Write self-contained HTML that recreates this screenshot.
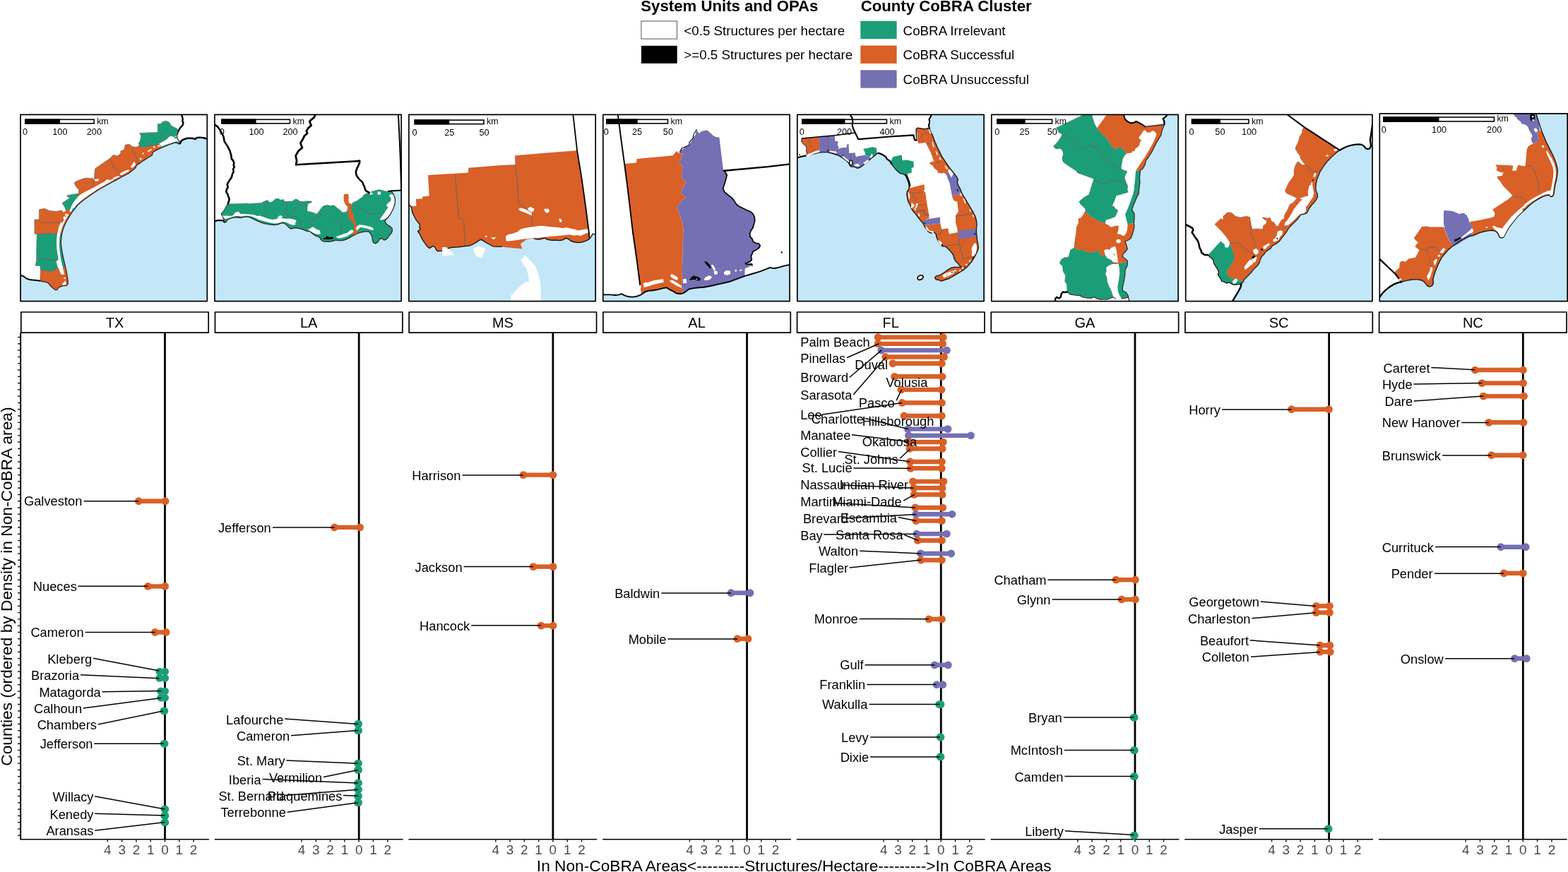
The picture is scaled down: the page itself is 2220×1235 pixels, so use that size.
<!DOCTYPE html>
<html lang="en"><head><meta charset="utf-8"><title>County CoBRA Cluster</title>
<style>html,body{margin:0;padding:0;background:#fff;}body{width:2220px;height:1235px;overflow:hidden;}svg{display:block;}text{font-family:"Liberation Sans",Arial,Helvetica,sans-serif;}</style>
</head><body>
<svg width="2220" height="1235" viewBox="0 0 2220 1235">
<rect width="2220" height="1235" fill="#fff"/>
<g id="legend">
<text x="907.3" y="16.3" font-size="22.19" font-weight="bold" fill="#000">System Units and OPAs</text>
<rect x="907.9" y="29.9" width="50.6" height="25.2" fill="#fff" stroke="#555" stroke-width="1"/>
<rect x="907.9" y="64.8" width="50.8" height="25" fill="#000"/>
<text x="968.3" y="49.7" font-size="18.78" fill="#000">&lt;0.5 Structures per hectare</text>
<text x="968.3" y="84.3" font-size="18.78" fill="#000">&gt;=0.5 Structures per hectare</text>
<text x="1218.7" y="16.3" font-size="22.19" font-weight="bold" fill="#000">County CoBRA Cluster</text>
<rect x="1218.3" y="29.7" width="51.3" height="25.4" fill="#1b9e77"/>
<text x="1278.6" y="49.7" font-size="18.78" fill="#000">CoBRA Irrelevant</text>
<rect x="1218.3" y="64.5" width="51.3" height="25.4" fill="#d96027"/>
<text x="1278.6" y="84.3" font-size="18.78" fill="#000">CoBRA Successful</text>
<rect x="1218.3" y="99.3" width="51.3" height="25.4" fill="#7570b3"/>
<text x="1278.6" y="118.9" font-size="18.78" fill="#000">CoBRA Unsuccessful</text>
</g>
<g id="map0"><clipPath id="clip0"><rect x="29" y="162.3" width="264.3" height="264.3"/></clipPath><g clip-path="url(#clip0)"><rect x="29" y="162.3" width="264.3" height="264.3" fill="#fff"/>
<polygon points="294.9,197.4 290.4,195.8 285.8,194.9 281.3,194.7 277.9,195.4 276.2,197.2 273.4,196 268.8,195.6 264.3,196 259.8,197.5 256.4,199.8 255.4,202.6 253.5,203.7 250.7,202.6 247.3,202.2 243.9,203.3 239.4,205 234.8,206.7 230.3,208.6 225.7,210.7 221.2,212.9 217.8,214.6 215.8,216.9 215.5,219.8 212.7,221.5 208.7,223.8 205.3,226.1 201.9,228.3 198.5,230.6 195.1,232.9 193.1,234.6 192,237.4 189.5,239.7 186.1,242.5 182.7,245.3 179.3,247 174.7,249.3 170.2,251.8 165.7,254.4 160,257.3 153.8,260.7 144.7,265.8 137.9,269.7 131.1,274.3 125.4,278.2 119.8,282.2 114.1,286.7 109.6,290.7 106.4,295 102.8,299.5 99.4,304.6 96,310.3 92.6,316.5 89.7,323.3 87.8,330.1 86.7,336.9 86.3,343.7 86.9,350.5 88,357.3 89.4,364.1 91.2,372.1 92.8,378.9 94.3,385.7 95.4,392.5 96.2,398.2 96,402.7 93.9,404.5 90.3,404.5 86.9,405.6 83.5,406.8 81.9,408.4 81.3,410.4 78.5,410.7 75.5,408.5 72.1,405.6 69.9,402.8 67.6,400.5 64.2,399.4 59.7,398.5 56.3,397.7 56.3,397.7 51.7,397.1 46.1,396.6 41.5,395.9 37,394.3 33.6,391.5 30.8,390.3 27.9,390 20,440 300,440 300,190" fill="#c3e7f9"/>
<polygon points="223.3,175.6 226.9,175.4 230.9,172.2 234.8,171.2 239.4,172.9 241.1,176 243.3,178.8 246.7,180.2 250.7,182.2 252,184.7 251.6,188.4 250.3,191.5 248.4,192.4 246.7,194.1 244.5,193 241.6,192.4 239.4,193.5 237.7,195.2 235.4,197.5 232.6,199.2 228,201.5 224.6,204 221.2,205.4 217.8,205.4 214.4,206.6 209.9,207.4 205.3,208.3 197.4,208.3 196.3,202.6 198.5,199.2 199.7,192.4 197.6,188.4 223.3,187.5" fill="#1b9e77" stroke="#666" stroke-width="0.6" stroke-linejoin="round"/>
<polygon points="227.6,208.1 234.8,205.1 239.4,203.5 246.2,201.3 250.7,200.1 253.5,201.5 253.6,203.5 250.7,202.6 247.3,202.2 243.9,203.3 239.4,205 234.8,206.7 230.3,208.6 226.9,210.3" fill="#1b9e77"/>
<polygon points="246.4,194.3 249.6,193.5 250.2,195.6 247.9,196.7" fill="#1b9e77"/>
<polyline points="227.8,187.5 228,201.5" fill="none" stroke="#666" stroke-width="0.8" stroke-linejoin="round" stroke-linecap="round"/>
<polygon points="177,205.4 181.5,204.3 184.4,204.9 187.2,207.7 192.9,208.3 197.4,206.6 197.4,208.3 205.3,208.3 214.4,206.6 218.9,205.4 224.6,204 228,206.6 226.9,210.3 221.2,212.9 217.8,214.6 215.8,216.9 215.5,219.8 212.7,221.5 208.7,223.8 205.3,226.1 201.9,228.3 198.5,230.6 195.1,232.9 193.1,234.6 192,237.4 189.5,239.7 186.1,242.5 182.7,245.3 179.3,247 174.7,249.3 170.2,251.8 165.7,254.4 160,257.3 153.8,260.7 144.7,265.8 137.9,269.7 131.1,274.3 125.4,278.2 119.8,282.2 114.1,286.7 110.7,289.7 110.7,278 111.8,268.4 109.6,266.7 106.7,262.7 105,258.7 109.6,255.9 117.5,253.1 121.5,251.9 128.8,252.7 130.5,251.9 133.4,254.8 133.9,245.7 134.5,238.9 156,224.1 160,219.6 166.8,220.7 170.8,217.3 170.8,213.9 175.9,211.7" fill="#d96027" stroke="#666" stroke-width="0.6" stroke-linejoin="round"/>
<polyline points="187.2,207.7 187.2,211.7 190.6,218.5 194.6,225.9 193.4,233.2" fill="none" stroke="#666" stroke-width="0.8" stroke-linejoin="round" stroke-linecap="round"/>
<polyline points="160,234.4 161.1,236.6 164.5,239.5 169.1,245.7 172.5,250" fill="none" stroke="#666" stroke-width="0.8" stroke-linejoin="round" stroke-linecap="round"/>
<polyline points="156,224.1 157.7,228.7 158.9,233.2 160,236.6" fill="none" stroke="#666" stroke-width="0.8" stroke-linejoin="round" stroke-linecap="round"/>
<polyline points="133.4,254.8 131.7,265.5" fill="none" stroke="#666" stroke-width="0.8" stroke-linejoin="round" stroke-linecap="round"/>
<polygon points="94.3,276.9 110.7,274 110.7,278 110.7,289.7 108.4,291.6 106.4,295 102.8,299.5 101.1,302 98.2,300.1 93.7,299.5 92.6,295 92.6,295 88,287.6 99.4,280.3 97.1,279.7" fill="#1b9e77" stroke="#666" stroke-width="0.6" stroke-linejoin="round"/>
<polygon points="55.4,296.7 63.1,295.2 69.9,298.4 80.1,299.5 87.4,297.8 89.7,301.2 93.7,299.3 98.2,300.1 101.1,302 99.4,304.6 96,310.3 92.6,316.5 89.7,323.3 87.8,330.1 87.6,331.5 81.2,330.7 76.7,331.3 68.7,330.7 65.3,331.3 61.9,330.7 58.5,331.8 52.9,331.3 48.9,331.3 48.9,310.9 55.4,310.9" fill="#d96027" stroke="#666" stroke-width="0.6" stroke-linejoin="round"/>
<polyline points="55.4,310.9 59.1,315.4 85.7,315.4" fill="none" stroke="#666" stroke-width="0.8" stroke-linejoin="round" stroke-linecap="round"/>
<polygon points="52.3,331.3 58.5,331.8 61.9,330.7 65.3,331.3 68.7,330.7 76.7,331.3 81.2,330.7 87.6,331.5 86.7,336.9 86.3,343.7 86.9,350.5 88,357.3 89.4,364.1 91.2,372.1 92.6,378.3 81.8,378.3 78.9,382.9 75.5,382.9 73.8,384.6 65.3,383.4 57.4,382.3 56.8,376.6 50,376.1 51.2,371 51.7,367 51.7,351.7" fill="#1b9e77" stroke="#666" stroke-width="0.6" stroke-linejoin="round"/>
<polyline points="51.7,367 79.5,368.1 82.9,369.3" fill="none" stroke="#666" stroke-width="0.8" stroke-linejoin="round" stroke-linecap="round"/>
<polygon points="57.4,382.3 65.3,383.4 73.8,384.6 75.5,382.9 78.9,382.9 81.8,378.3 92.6,378.3 92.8,378.9 94.3,385.7 95.4,392.5 96.2,398.2 96,402.7 93.9,404.5 90.3,404.5 86.9,405.6 83.5,406.8 81.9,408.4 81.3,410.4 78.5,410.7 75.5,408.5 72.1,405.6 69.9,402.8 67.6,400.5 64.2,399.4 59.7,398.5 56.8,397.7" fill="#d96027" stroke="#666" stroke-width="0.6" stroke-linejoin="round"/>
<polygon points="201.4,216.2 203.6,216.4 203.6,218.5 201.7,218.5" fill="#fff"/>
<polygon points="208.7,213.7 211.6,212.2 214.4,210.8 215,212.2 212.1,213.9 209.9,215.6" fill="#fff"/>
<polygon points="216.7,207.4 219.5,207.4 219.9,209.4 217.2,209.6" fill="#fff"/>
<polygon points="222.9,206 226.3,205.7 226.7,207.4 223.5,207.7" fill="#fff"/>
<polygon points="197.6,223.9 199.9,223.4 200.6,226.2 198.5,226.6" fill="#fff"/>
<polygon points="184.9,236.8 189.7,228.7 192.3,233 187.8,237.5" fill="#fff"/>
<polygon points="169.6,245.9 175.9,242.3 182.7,240 182.9,242.3 177,245.7 171.3,248.5" fill="#fff"/>
<polygon points="160,251.9 164.5,250 168.5,248.9 169.1,250.8 164.5,252.7 160,254.8" fill="#fff"/>
<polygon points="160,253.4 154.9,255 151.5,253.9 148.1,257.3 144.7,259 140.2,261.2 133.4,265.2 126.6,268.6 119.8,272 114.1,275.4 110.7,278.3 107.3,282.2 103.9,286.7 101.6,291 99.9,295 105,295 105.8,293.5 109.6,289.1 114.1,285.1 119.8,280.6 125.4,276.6 131.1,272.7 137.9,268.1 144.7,264.2 153.8,259.1 160,255.7" fill="#fff"/>
<polygon points="133.4,254.2 136.8,253.4 140.2,253.6 139,256.5 134.5,256.5" fill="#fff"/>
<polygon points="99.9,295 98.2,298.4 94.8,300.1 91.4,303.5 89.4,308.6 88,313.7 85.7,315.4 83.5,321.1 81.8,327.9 80.6,333.5 80.1,340.3 80.1,347.1 80.6,353.9 81.8,361.9 82.6,367.6 79.5,370.4 81.8,378.3 83.5,381.2 85.2,385.7 86.9,389.1 91.2,388.6 89.7,382.3 88,374.4 86.3,367.6 85.2,360.7 84.4,353.9 84,347.1 84.2,340.3 84.8,333.5 86,327.9 87.8,322.2 90.3,316.5 93.1,310.9 95.7,306.3 98.2,302.9 101.6,298.4 103.3,295" fill="#fff"/>
<polygon points="92.6,298.7 96.2,295.9 101.8,302.1 99.4,304.6 95.4,303.2 93.1,306.6 90.3,312.3 87.8,315.7 86.3,315.1 88,308.9 89.7,303.2" fill="#d96027"/>
<polygon points="91.6,303.8 94.3,302.3 95,304.1 92.6,305.7" fill="#fff"/>
<polygon points="89.4,307.2 92,306.1 92.6,309.5 90.1,311.2" fill="#fff"/>
<polygon points="88,402.1 92.6,397.6 93.9,403.3 89.4,404.1" fill="#fff"/>
<polygon points="90.1,393.4 92.6,392.7 92.8,394.8 90.5,395" fill="#fff"/>
<polyline points="294.9,197.4 290.4,195.8 285.8,194.9 281.3,194.7 277.9,195.4 276.2,197.2 273.4,196 268.8,195.6 264.3,196 259.8,197.5 256.4,199.8 255.4,202.6 253.5,203.7 250.7,202.6 247.3,202.2 243.9,203.3 239.4,205 234.8,206.7 230.3,208.6 225.7,210.7 221.2,212.9 217.8,214.6 215.8,216.9 215.5,219.8 212.7,221.5 208.7,223.8 205.3,226.1 201.9,228.3 198.5,230.6 195.1,232.9 193.1,234.6 192,237.4 189.5,239.7 186.1,242.5 182.7,245.3 179.3,247 174.7,249.3 170.2,251.8 165.7,254.4 160,257.3 153.8,260.7 144.7,265.8 137.9,269.7 131.1,274.3 125.4,278.2 119.8,282.2 114.1,286.7 109.6,290.7 106.4,295 102.8,299.5 99.4,304.6 96,310.3 92.6,316.5 89.7,323.3 87.8,330.1 86.7,336.9 86.3,343.7 86.9,350.5 88,357.3 89.4,364.1 91.2,372.1 92.8,378.9 94.3,385.7 95.4,392.5 96.2,398.2 96,402.7 93.9,404.5 90.3,404.5 86.9,405.6 83.5,406.8 81.9,408.4 81.3,410.4 78.5,410.7 75.5,408.5 72.1,405.6 69.9,402.8 67.6,400.5 64.2,399.4 59.7,398.5 56.3,397.7" fill="none" stroke="#3a2a2a" stroke-width="1.3" stroke-linejoin="round" stroke-linecap="round"/>
<polyline points="256.4,161.8 258.1,165.2 258.7,168.6 258.4,172 259.5,173.7 258.7,177.1 256.6,179.4 254.8,181.6 253.3,183.9 252.5,186.2" fill="none" stroke="#000" stroke-width="2.4" stroke-linejoin="round" stroke-linecap="round"/>
<polyline points="252.5,186.2 251.8,189 250.7,191.8 250.7,195.2 252.4,198.1 254.1,200.3 253.9,203.2" fill="none" stroke="#222" stroke-width="1.2" stroke-linejoin="round" stroke-linecap="round"/>
<polyline points="294.9,197.4 290.4,195.8 285.8,194.9 281.3,194.7 277.9,195.4 276.2,197.2 273.4,196 268.8,195.6 264.3,196 259.8,197.5 256.4,199.8 255.4,202.6 253.9,203.5" fill="none" stroke="#000" stroke-width="2.4" stroke-linejoin="round" stroke-linecap="round"/>
<polyline points="56.3,397.7 51.7,397.1 46.1,396.6 41.5,395.9 37,394.3 33.6,391.5 30.8,390.3 27.9,390" fill="none" stroke="#000" stroke-width="2.0" stroke-linejoin="round" stroke-linecap="round"/>
</g>
<rect x="35.9" y="169.3" width="97.3" height="5.5" fill="none" stroke="#000" stroke-width="1.6"/>
<rect x="35.1" y="168.5" width="49.9" height="7.1" fill="#000"/>
<text x="137.2" y="175.6" font-size="12.3" fill="#000">km</text>
<text x="35.6" y="190.9" font-size="12.7" text-anchor="middle" fill="#000">0</text>
<text x="84.9" y="190.9" font-size="12.7" text-anchor="middle" fill="#000">100</text>
<text x="133.4" y="190.9" font-size="12.7" text-anchor="middle" fill="#000">200</text>
<rect x="29" y="162.3" width="264.3" height="264.3" fill="none" stroke="#000" stroke-width="1.7" stroke-linejoin="round"/>
</g>
<g id="map1"><clipPath id="clip1"><rect x="303.9" y="162.3" width="264.3" height="264.3"/></clipPath><g clip-path="url(#clip1)"><rect x="303.9" y="162.3" width="264.3" height="264.3" fill="#fff"/>
<polygon points="302.9,313.8 307.5,312.3 312,312.1 316,312.5 317.7,314.6 319.9,314.6 321.6,311.7 324.5,309.8 329,308.3 334.7,307.5 340.3,308.5 343.7,307.9 347.1,306.8 351.7,307.2 356.2,308.9 360.7,311.2 365.3,313.4 369.8,315.1 374.4,316.6 378.9,317.4 383.4,318 388,318.5 392.5,318.2 395.9,316.8 399.3,315.7 402.7,316.6 406.1,319.1 409.5,322.5 412.3,324.2 415.2,323.1 418.6,322.5 422,323.4 426.5,324.2 431,325.9 435,327.6 438.4,327.6 441.8,330.4 446.3,333.8 450.9,335.5 453.1,336.7 454.3,339.5 457.7,341.8 462.2,342.3 467.9,342 472.4,341.2 474.7,340.1 479.2,340.6 484.9,340.6 490.5,338.9 495.1,336.7 498.5,334.4 501.9,332.7 505.3,331 509.8,329.3 514.4,328.4 518.9,327.6 522.3,328.2 524.6,331 526.8,335 527.4,339.5 528.5,343.5 531.4,344.9 534.8,342.9 537,339.5 539.3,337.2 541.6,338.4 543.8,340.1 547.2,338.9 549.5,336.1 551.8,332.7 554,330.4 555.4,327 555.2,323.6 552.9,320.8 549.5,319.1 546.7,316.8 545,313.4 546.1,311.2 549.5,307.8 552.9,303.2 555.2,298.7 557.4,294.1 559.1,288.5 559.5,282.8 558.6,278.3 556.3,273.7 553.5,270.3 553.5,270.3 559.7,269.9 571,269.3 580,440 290,440" fill="#c3e7f9"/>
<polygon points="322.8,289 350.5,287.9 351.7,288.5 369.8,287.6 373.2,285.6 378.3,283.4 382.3,286.8 385.7,285.6 390.2,281.5 394.8,281.3 397,283.4 401,282.2 402.7,285.1 406.7,285.6 409.5,285.1 414,285.1 417.4,282.2 420.8,282.2 424.2,285.1 428.8,285.6 435,284.7 441.2,285.1 441.2,286.8 436.1,288.5 435,293 435,299.3 441.8,300.4 448.6,303.2 452,298.7 455.4,294.1 458.2,291.3 463.3,290.5 467.9,291.3 472.4,290.7 474.7,291.9 478.1,295.3 481.5,297.6 484.9,301 488.3,300.4 491.1,299.8 492.8,294.1 493.9,288.5 498.5,289.6 499.6,286.8 503,285.6 506.4,283.9 509.8,281.1 513.2,279.4 514.4,276.6 517.8,274.3 522.3,273.2 525.7,271.5 531.4,269.8 537,268.6 541.6,269.8 546.1,270.9 550.6,270.9 553.5,270.3 553.5,270.3 556.3,273.7 558.6,278.3 559.5,282.8 559.1,288.5 557.4,294.1 555.2,298.7 552.9,303.2 549.5,307.8 546.1,311.2 545,313.4 546.7,316.8 549.5,319.1 552.9,320.8 555.2,323.6 555.4,327 554,330.4 551.8,332.7 549.5,336.1 547.2,338.9 543.8,340.1 541.6,338.4 539.3,337.2 537,339.5 534.8,342.9 531.4,344.9 528.5,343.5 527.4,339.5 526.8,335 524.6,331 522.3,328.2 518.9,327.6 514.4,328.4 509.8,329.3 505.3,331 501.9,332.7 498.5,334.4 495.1,336.7 490.5,338.9 484.9,340.6 479.2,340.6 474.7,340.1 472.4,341.2 467.9,342 462.2,342.3 457.7,341.8 454.3,339.5 453.1,336.7 450.9,335.5 446.3,333.8 441.8,330.4 438.4,327.6 435,327.6 431,325.9 426.5,324.2 422,323.4 418.6,322.5 415.2,323.1 412.3,324.2 409.5,322.5 406.1,319.1 402.7,316.6 399.3,315.7 395.9,316.8 392.5,318.2 388,318.5 383.4,318 378.9,317.4 374.4,316.6 369.8,315.1 365.3,313.4 360.7,311.2 356.2,308.9 351.7,307.2 347.1,306.8 343.7,307.9 340.3,308.5 334.7,307.5 329,308.3 324.5,309.8 321.6,311.7 319.9,314.6 317.7,314.6 315.2,306.1 313.7,304.4 313.1,302.4 316,299.8 318.2,296.4 320.5,291.9" fill="#1b9e77" stroke="#7a5a5a" stroke-width="0.5" stroke-linejoin="round"/>
<polygon points="486.6,277.1 487.7,274.9 490.5,274.3 493.4,275.4 493.7,279.4 493.4,283.9 493.9,287.3 496.8,288.5 498.5,289.6 496.8,293 497.3,297.6 499,302.1 501.3,305.5 501.9,310 503,314.6 504.7,319.1 506.4,322.5 507,327 506.6,330.2 503,331.8 499,333.3 500.7,327 501.3,322.5 500.7,318 499,314.6 496.2,311.2 492.8,308.9 493.9,304.4 492.8,301 491.1,298.7 492.8,294.1 490.5,291.3 488.3,288.5 486.9,285.1 486.6,280.5" fill="#d96027"/>
<polyline points="375.5,287.9 376.6,308.9" fill="none" stroke="#666" stroke-width="0.8" stroke-linejoin="round" stroke-linecap="round"/>
<polyline points="405.5,285.6 406.7,309.5" fill="none" stroke="#666" stroke-width="0.8" stroke-linejoin="round" stroke-linecap="round"/>
<polyline points="408.9,306.6 423.1,290.7 435,290.2" fill="none" stroke="#666" stroke-width="0.8" stroke-linejoin="round" stroke-linecap="round"/>
<polyline points="408.9,306.6 419.7,306.6 425.4,314.6 426.5,323.6" fill="none" stroke="#666" stroke-width="0.8" stroke-linejoin="round" stroke-linecap="round"/>
<polyline points="440.7,314.6 441.8,312.3 445.2,308.9 452,306.6 461.1,298.7 472.4,308.9 483.7,319.1 483.2,332.1" fill="none" stroke="#666" stroke-width="0.8" stroke-linejoin="round" stroke-linecap="round"/>
<polyline points="501.9,289 507.6,294.1 516.6,298.7 525.7,303.2 537,302.1 542.7,300.4" fill="none" stroke="#666" stroke-width="0.8" stroke-linejoin="round" stroke-linecap="round"/>
<polyline points="440.7,314.6 441.2,319.1 442.4,321.4" fill="none" stroke="#666" stroke-width="0.8" stroke-linejoin="round" stroke-linecap="round"/>
<polygon points="314.3,305.5 329,305.7 331.3,303.2 333.5,300.7 337.5,299.8 340.3,302.7 348.3,303.2 356.2,303.8 360.7,304.4 364.1,306.1 367.6,305.5 374.4,307.8 378.9,309.5 382.3,310.6 385.7,310.9 392.5,310 394.2,306.6 397,304.9 399.9,306.4 398.7,308.9 403.8,309.8 408.4,309.5 415.2,310.6 419.7,312.3 418,315.7 418.6,318 415.2,319.1 410.6,317.4 407.2,315.7 403.8,314.6 400.4,314 397,315.1 392.5,316.3 388,316.6 383.4,315.7 378.9,314.6 374.4,313.4 369.8,312.3 365.3,310.6 360.7,308.3 356.2,306.6 351.7,305.7 347.1,305.5 342.6,306.4 338.1,306.1 333.5,306.1 329,307.2 323.3,308.9 319.4,310 316,307.8" fill="#fff"/>
<polygon points="503.6,323.6 505.9,320 508.7,318.2 514.4,318.7 520,319.9 525.7,321.6 528.9,323.4 528.2,325.9 524.6,325.2 518.9,323.6 514.4,322.5 510,322 507.8,324.2 505.3,326.5" fill="#fff"/>
<polygon points="436.1,324.8 439.5,323.6 442.4,321.4 444.6,321.9 447.5,324.8 450.9,325.3 453.1,327 453.7,331 450.9,332.1 446.3,331 441.8,328.7 438.4,327" fill="#fff"/>
<polygon points="475.8,335 480.3,333.8 484.9,332.1 489.4,330.4 492.8,329.3 495.1,326.5 498.5,325.3 500.7,327.6 498.5,330.4 495.1,332.1 491.7,334.4 487.1,336.1 482.6,337.2 478.1,337.5" fill="#fff"/>
<polygon points="551,276.4 553,275.2 555.3,274.9 557.4,275.9 557.8,276.4 558.9,280.4 559.2,284.4 558.9,288.3 557.8,292.9 556.1,297.4 553.8,301.4 551,305.3 548.2,308.2 545.3,309.9 543.6,310.7 540.8,311.3 539.1,311.9 538,310.2 540.8,306.5 543.6,302.5 545.9,299.1 548.2,295.7 549.9,293.4 548.5,292.9 547.3,291.7 547.9,288.9 549.9,287.2 552.1,285.5 553.8,283.8 553.6,281.3 552.1,278.7" fill="#fff"/>
<polygon points="523.2,273.6 524.9,272.2 526.6,272.8 528.1,275 526.6,275.6 523.8,275.4" fill="#fff"/>
<circle cx="536.8" cy="273.7" r="2.4" fill="#fff"/>
<polygon points="457.1,337.2 460.5,336.7 462.2,334.4 464.5,334.7 465.6,336.1 470.1,335.5 472.4,336.7 471.3,338.4 466.7,338.9 461.1,338.9 457.7,338.7" fill="#000"/>
<polyline points="302.9,313.8 307.5,312.3 312,312.1 316,312.5 317.7,314.6 319.9,314.6 321.6,311.7 324.5,309.8 329,308.3 334.7,307.5 340.3,308.5 343.7,307.9 347.1,306.8 351.7,307.2 356.2,308.9 360.7,311.2 365.3,313.4 369.8,315.1 374.4,316.6 378.9,317.4 383.4,318 388,318.5 392.5,318.2 395.9,316.8 399.3,315.7 402.7,316.6 406.1,319.1 409.5,322.5 412.3,324.2 415.2,323.1 418.6,322.5 422,323.4 426.5,324.2 431,325.9 435,327.6 438.4,327.6 441.8,330.4 446.3,333.8 450.9,335.5 453.1,336.7 454.3,339.5 457.7,341.8 462.2,342.3 467.9,342 472.4,341.2 474.7,340.1 479.2,340.6 484.9,340.6 490.5,338.9 495.1,336.7 498.5,334.4 501.9,332.7 505.3,331 509.8,329.3 514.4,328.4 518.9,327.6 522.3,328.2 524.6,331 526.8,335 527.4,339.5 528.5,343.5 531.4,344.9 534.8,342.9 537,339.5 539.3,337.2 541.6,338.4 543.8,340.1 547.2,338.9 549.5,336.1 551.8,332.7 554,330.4 555.4,327 555.2,323.6 552.9,320.8 549.5,319.1 546.7,316.8 545,313.4 546.1,311.2 549.5,307.8 552.9,303.2 555.2,298.7 557.4,294.1 559.1,288.5 559.5,282.8 558.6,278.3 556.3,273.7 553.5,270.3" fill="none" stroke="#3a2a2a" stroke-width="1.3" stroke-linejoin="round" stroke-linecap="round"/>
<polyline points="302.9,313.8 307.5,312.3 312,312.1 316,312.5 317.7,314.6" fill="none" stroke="#000" stroke-width="2.0" stroke-linejoin="round" stroke-linecap="round"/>
<polyline points="304.1,176.5 308.6,179.9 313.1,186.7 316.5,193.5 317.7,200.3 322.2,207.1 325.6,213.9 327.4,220.7 327.9,225 330.1,227.3 331.3,230.7 330.7,234.1 331.8,236.3 330.1,239.7 330.7,243.1 329,246.5 327.9,251.1 325.6,254.5 323.3,257.9 321.6,261.3 322.8,264.7 321.1,268.1 320.2,271.5 322.2,274.9 323.3,278.3 324.7,281.7 323.9,285.1 322.8,288.7" fill="none" stroke="#000" stroke-width="2.6" stroke-linejoin="round" stroke-linecap="round"/>
<polyline points="322.8,288.7 320.5,291.9 318.2,296.4 316,299.8 313.1,302.4 313.7,304.4 315.2,306.1 317.7,314.6" fill="none" stroke="#222" stroke-width="1.0" stroke-linejoin="round" stroke-linecap="round"/>
<polyline points="446.4,162.5 444.6,166.3 441.2,169.1 438.3,172 440.6,177.7 436.7,181.1 433.8,185.6 435.1,189 431,192.4 428.3,198.1 425.4,202.6 427.9,209.4 422.4,213.9 418.6,220.7 420.1,227.6 419.2,233.2" fill="none" stroke="#000" stroke-width="2.8" stroke-linejoin="round" stroke-linecap="round"/>
<polyline points="419.2,233.2 509.3,228 508.1,227.5 509.3,230.1 507.6,234.1 505.3,238.6 503.9,243.1 504.4,247.7 506.4,251.1 509.8,255 513.2,257.9 514.4,261.3 516.1,264.7 516.8,268.1 518.9,270.9 521.7,272 522.5,273.2" fill="none" stroke="#000" stroke-width="2.6" stroke-linejoin="round" stroke-linecap="round"/>
<polyline points="550.1,270.7 559.7,269.9 571,269.3" fill="none" stroke="#000" stroke-width="2.0" stroke-linejoin="round" stroke-linecap="round"/>
<polyline points="563.9,161.8 565.3,189 566.8,223 568.2,268.4" fill="none" stroke="#000" stroke-width="2.0" stroke-linejoin="round" stroke-linecap="round"/>
</g>
<rect x="313.9" y="169.3" width="96.6" height="5.5" fill="none" stroke="#000" stroke-width="1.6"/>
<rect x="313.1" y="168.5" width="49.5" height="7.1" fill="#000"/>
<text x="414.5" y="175.6" font-size="12.3" fill="#000">km</text>
<text x="314.3" y="190.9" font-size="12.7" text-anchor="middle" fill="#000">0</text>
<text x="363" y="190.9" font-size="12.7" text-anchor="middle" fill="#000">100</text>
<text x="411.1" y="190.9" font-size="12.7" text-anchor="middle" fill="#000">200</text>
<rect x="303.9" y="162.3" width="264.3" height="264.3" fill="none" stroke="#000" stroke-width="1.7" stroke-linejoin="round"/>
</g>
<g id="map2"><clipPath id="clip2"><rect x="578.9" y="162.3" width="264.3" height="264.3"/></clipPath><g clip-path="url(#clip2)"><rect x="578.9" y="162.3" width="264.3" height="264.3" fill="#fff"/>
<polygon points="577.9,289.3 581.3,291.9 583,295.3 583.4,299.3 584.7,302.7 587,307.2 589.3,311.8 592.1,315.2 594.4,318 593.8,322 595.2,324.2 592.1,327.1 593.2,329.9 591.5,327.8 593.8,330.6 595.5,334 597.2,338 599.7,341.9 602.3,345.3 604.6,348.7 608,351.6 610.8,349.9 613.6,348.2 615.9,350.4 617.6,353.8 619.3,355.5 623.3,355.5 626.1,355.3 634.6,351.6 640.3,350.4 649.4,349.9 658.4,348.7 664.1,348.2 668.6,346.5 674.3,343.1 678.8,340.2 681.7,339.4 685.6,341.9 690.2,344.8 694.7,347 698.1,349 703.8,349.3 710,349.3 721.3,350.4 732.7,351.6 738.9,352.1 736.6,345.3 741.2,341.9 746.3,338.5 755.3,337.4 755.3,337.4 758.7,338.5 763.3,339.1 767.8,338 771.2,337.2 774.6,339.1 780.3,340.2 787.1,340.2 792.8,340.6 797.3,339.7 800.7,337.4 804.1,338 807.5,340.8 812,342.5 817.7,343.6 823.4,343.1 829,341.4 833.6,339.1 837,335.1 839.2,331.2 841.5,331.7 844.9,333.1 855,440 565,440 565,290" fill="#c3e7f9"/>
<polygon points="606.3,248.3 663,244.9 663.5,238.1 710,234.3 729.8,233.5 729.3,220.5 817.1,213.4 823.4,251.7 829,291.4 834.1,331 834.7,337.4 833.8,339.1 829,341.4 823.4,343.1 817.7,343.6 812,342.5 807.5,340.8 804.1,338 800.7,337.4 797.3,339.7 792.8,340.6 787.1,340.2 780.3,340.2 774.6,339.1 771.2,337.2 767.8,338 763.3,339.1 758.7,338.5 755.3,337.4 755.3,337.4 746.3,338.5 741.2,341.9 736.6,345.3 738.9,352.1 732.7,351.6 721.3,350.4 710,349.3 703.8,349.3 698.1,349 694.7,347 690.2,344.8 685.6,341.9 681.7,339.4 678.8,340.2 674.3,343.1 668.6,346.5 664.1,348.2 658.4,348.7 649.4,349.9 640.3,350.4 634.6,351.6 626.1,355.3 623.3,355.5 619.3,355.5 617.6,353.8 615.9,350.4 613.6,348.2 610.8,349.9 608,351.6 604.6,348.7 602.3,345.3 599.7,341.9 597.2,338 595.5,334 593.8,330.6 591.5,327.8 593.2,329.9 592.1,327.1 595.2,324.2 593.8,322 594.4,318 592.1,315.2 589.3,311.8 587,307.2 584.7,302.7 583.4,299.3 583,295.3 581.3,291.9 577.9,289.3 581.9,292.3 589.8,291.9 589,282.3 598.3,281.7 598.3,278.7 608,277.8" fill="#d96027" stroke="#c0501a" stroke-width="0.5" stroke-linejoin="round"/>
<polyline points="644.3,246.6 649.4,308.9 654.5,310.6 656.7,314 657.9,335 658.4,348.2" fill="none" stroke="#666" stroke-width="1.0" stroke-linejoin="round" stroke-linecap="round"/>
<polyline points="729.8,233.5 731.5,251.7 734.4,289.1 738.3,290.2 744,294.8 748.5,298.2 752.5,303.8 753.6,320.8" fill="none" stroke="#666" stroke-width="1.0" stroke-linejoin="round" stroke-linecap="round"/>
<polyline points="577.9,289.3 581.3,291.9 583,295.3 583.4,299.3 584.7,302.7 587,307.2 589.3,311.8 592.1,315.2 594.4,318 593.8,322 595.2,324.2 592.1,327.1 593.2,329.9 591.5,327.8 593.8,330.6 595.5,334 597.2,338 599.7,341.9 602.3,345.3 604.6,348.7 608,351.6 610.8,349.9 613.6,348.2 615.9,350.4 617.6,353.8 619.3,355.5 623.3,355.5 626.1,355.3 634.6,351.6 640.3,350.4 649.4,349.9 658.4,348.7 664.1,348.2 668.6,346.5 674.3,343.1 678.8,340.2 681.7,339.4 685.6,341.9 690.2,344.8 694.7,347 698.1,349 703.8,349.3 710,349.3" fill="none" stroke="#111" stroke-width="1.25" stroke-linejoin="round" stroke-linecap="round"/>
<polyline points="755.3,337.4 758.7,338.5 763.3,339.1 767.8,338 771.2,337.2 774.6,339.1 780.3,340.2 787.1,340.2 792.8,340.6 797.3,339.7 800.7,337.4 804.1,338 807.5,340.8 812,342.5 817.7,343.6 823.4,343.1 829,341.4 833.6,339.1 837,335.1 839.2,331.2 841.5,331.7 844.9,333.1" fill="none" stroke="#111" stroke-width="1.35" stroke-linejoin="round" stroke-linecap="round"/>
<polyline points="811.2,161 817.1,213.4 823.4,251.7 829,291.4 834.1,331 833.6,329.5 834.7,337.4" fill="none" stroke="#000" stroke-width="1.8" stroke-linejoin="round" stroke-linecap="round"/>
<polygon points="733.8,295.9 737.2,294.5 742.9,295.9 748.5,298.7 752.5,301.6 753.1,305.5 748.5,303.3 741.7,300.4 736.1,298.2" fill="#fff"/>
<polygon points="746.8,295.9 749.1,293.6 752.5,293.1 753.6,294.8 756.5,295.3 755.3,299.3 753.1,300.4 749.7,298.7" fill="#fff"/>
<polygon points="770.1,296.5 772.9,295.3 774.6,296.5 776.3,295.3 778,299.3 774.6,302.1 771.8,299.9" fill="#fff"/>
<polygon points="791.1,310.1 793.3,309.5 796.2,312.9 792.8,315.2" fill="#fff"/>
<polygon points="686.8,334 689.6,334 689.6,335.7 686.8,335.7" fill="#fff"/>
<polygon points="694.7,336.8 702.1,335.7 698.7,339.7 697.5,338" fill="#fff"/>
<polygon points="626.1,349.9 631.8,349.9 643.7,361.2 626.1,362.3" fill="#fff"/>
<polygon points="670.9,351 678.8,348.2 687.3,352.1 682.2,365.7 674.3,362.9 670.9,355.5" fill="#fff"/>
<polygon points="715.7,335.1 719.1,332.3 727,330.6 732.7,328.3 737.2,324.4 744,322.7 755.3,321 766.7,319.8 778,321 789.4,322.1 797.9,323.2 800.7,322.1 806.4,323.2 814.3,324.9 818.8,326.6 823.4,325.5 830.2,324.4 832.2,324.4 832.7,329.7 827.9,331.2 822.2,334 817.7,332.9 812,333.4 806.4,332.3 800.7,332.9 789.4,334 778,335.1 766.7,336.3 757.6,337.2 746.3,338 738.3,339.1 727,340.8 716.8,341.7" fill="#fff"/>
<polygon points="737.2,368 744,361.8 750.8,369.1 757.6,376 761.6,386.2 764.4,396.4 765.8,407.7 765.8,427.5 723,427.5 723.6,418.5 732.7,408.8 742.9,400.3 749.1,398.6 748,389.6 745.1,380.5 740.6,373.7" fill="#fff"/>
</g>
<rect x="587.3" y="170.1" width="97.7" height="5.5" fill="none" stroke="#000" stroke-width="1.6"/>
<rect x="586.5" y="169.3" width="49.7" height="7.1" fill="#000"/>
<text x="689" y="176.3" font-size="12.3" fill="#000">km</text>
<text x="587" y="191.6" font-size="12.7" text-anchor="middle" fill="#000">0</text>
<text x="636.2" y="191.6" font-size="12.7" text-anchor="middle" fill="#000">25</text>
<text x="685.6" y="191.6" font-size="12.7" text-anchor="middle" fill="#000">50</text>
<rect x="578.9" y="162.3" width="264.3" height="264.3" fill="none" stroke="#000" stroke-width="1.7" stroke-linejoin="round"/>
</g>
<g id="map3"><clipPath id="clip3"><rect x="853.8" y="162.3" width="264.3" height="264.3"/></clipPath><g clip-path="url(#clip3)"><rect x="853.8" y="162.3" width="264.3" height="264.3" fill="#fff"/>
<polygon points="851.8,417.2 858.6,417.4 864.3,417.4 871.1,418 876.7,417.4 880.1,416.1 884.7,418.6 890.3,420.3 896,420.6 901.7,419.7 906.2,418 910.2,415.7 913,413.5 917.6,411.8 924.4,411.2 931.2,410.1 938,408.4 943.6,407.2 948.2,410.1 952.7,412.3 957.2,415.2 962.9,416.3 967.4,415.2 972,412.3 975.4,409.5 981,408.4 985,407.8 996.3,406.7 1006.5,405 1019,402.1 1033.7,398.7 1043.9,394.8 1054.7,390.8 1064.4,388 1075.7,384.6 1084.8,381.2 1090.4,378.9 1093.8,379.8 1097.2,380 1104,378.3 1109.7,376.6 1119.9,374.6 1130,440 840,440" fill="#c3e7f9"/>
<polygon points="884.1,232.1 901.1,230.4 901.5,225.1 952.7,220.2 957.8,213.9 960.6,216.8 965.2,217.9 966.9,218.5 965.2,223 961.8,229.8 964,234.4 967.4,235.5 965.2,241.2 966.3,244.6 964.6,249.1 965.7,253.6 969.7,255.9 972.5,258.7 968.6,261.6 966.9,266.7 964,271.8 965.2,275.2 969.7,277.4 970.8,280.3 967.4,282.5 964,285.4 962.9,288.8 959.5,291 958.4,295 960.6,298.4 962.9,304.1 964,309.7 966.3,314.3 967.4,323.3 968,334.7 966.9,340.3 966.3,363 965.7,397 966.5,415.2 962.9,416.3 957.2,415.2 952.7,412.3 948.2,410.1 943.6,407.2 938,408.4 931.2,410.1 924.4,411.2 917.6,411.8 913,413.5 910.2,415.7 907.9,416.9 906.2,403.8 901.7,368.7 896,329 892,295 888.1,262.7" fill="#d96027"/>
<polygon points="966.9,218.5 961.8,216.8 964,210.5 966.3,211.7 969.7,208.3 975.4,205.4 978.8,200.3 981,194.7 985,190.7 986.1,182.8 987.3,185.6 990.1,189 992.9,186.2 997.5,184.7 1001.4,184.5 1005.4,187.9 1009.4,191.8 1013.3,194.1 1018.4,194.4 1021.3,218.5 1024.1,241.7 1025.8,241.7 1029.2,248 1027.5,254.8 1025.8,260.4 1023.5,267.2 1025.8,271.8 1030.3,275.7 1034.9,279.1 1038.8,283.1 1041.7,288.2 1045.1,291.6 1051.9,295 1056.4,297.3 1062.1,299.5 1066.1,302.9 1068.3,307.5 1068.7,313.1 1067.2,317.7 1066.1,322.2 1063.2,326.7 1061.5,331.3 1062.1,335.2 1064.9,338.1 1066.1,342 1069.5,344.3 1074,344.9 1076.3,347.7 1075.1,350.5 1072.3,352.8 1069.5,354.5 1066.1,356.2 1064.9,359.6 1063.2,363 1064.4,367.6 1062.1,370.4 1057.6,372.1 1055.3,373.2 1057.6,374.4 1064.4,373.8 1064.9,376.1 1059.8,378.3 1054.7,380.6 1054.4,390.8 1043.9,394.8 1033.7,398.7 1019,402.1 1006.5,405 996.3,406.7 985,407.8 981,408.4 975.4,409.5 972,412.3 967.4,415.2 966.5,415.2 965.7,397 966.3,363 966.9,340.3 968,334.7 967.4,323.3 966.3,314.3 964,309.7 962.9,304.1 960.6,298.4 958.4,295 959.5,291 962.9,288.8 964,285.4 967.4,282.5 970.8,280.3 969.7,277.4 965.2,275.2 964,271.8 966.9,266.7 968.6,261.6 972.5,258.7 969.7,255.9 965.7,253.6 964.6,249.1 966.3,244.6 965.2,241.2 967.4,235.5 964,234.4 961.8,229.8 965.2,223 966.9,218.5" fill="#7570b3"/>
<polyline points="851.8,417.2 858.6,417.4 864.3,417.4 871.1,418 876.7,417.4 880.1,416.1 884.7,418.6 890.3,420.3 896,420.6 901.7,419.7 906.2,418 910.2,415.7 913,413.5 917.6,411.8 924.4,411.2 931.2,410.1 938,408.4 943.6,407.2 948.2,410.1 952.7,412.3 957.2,415.2 962.9,416.3 967.4,415.2 972,412.3 975.4,409.5 981,408.4 985,407.8 996.3,406.7 1006.5,405 1019,402.1 1033.7,398.7 1043.9,394.8 1054.7,390.8 1064.4,388 1075.7,384.6 1084.8,381.2 1090.4,378.9 1093.8,379.8 1097.2,380 1104,378.3 1109.7,376.6 1119.9,374.6" fill="none" stroke="#000" stroke-width="1.9" stroke-linejoin="round" stroke-linecap="round"/>
<polyline points="874.7,161.2 879,194.7 884.1,232.1 888.1,262.7 892,295 896,329 901.7,368.7 906.2,403.8" fill="none" stroke="#000" stroke-width="1.9" stroke-linejoin="round" stroke-linecap="round"/>
<polyline points="1024.1,241.7 1025.8,241.7 1029.2,248 1027.5,254.8 1025.8,260.4 1023.5,267.2 1025.8,271.8 1030.3,275.7 1034.9,279.1 1038.8,283.1 1041.7,288.2 1045.1,291.6 1051.9,295 1056.4,297.3 1062.1,299.5 1066.1,302.9 1068.3,307.5 1068.7,313.1 1067.2,317.7 1066.1,322.2 1063.2,326.7 1061.5,331.3 1062.1,335.2 1064.9,338.1 1066.1,342 1069.5,344.3 1074,344.9 1076.3,347.7 1075.1,350.5 1072.3,352.8 1069.5,354.5 1066.1,356.2 1064.9,359.6 1063.2,363 1064.4,367.6 1062.1,370.4 1057.6,372.1 1055.3,373.2 1057.6,374.4 1064.4,373.8 1064.9,376.1" fill="none" stroke="#000" stroke-width="1.7" stroke-linejoin="round" stroke-linecap="round"/>
<polyline points="1025.8,241.7 1087,236.1 1119.9,232.3" fill="none" stroke="#000" stroke-width="2.4" stroke-linejoin="round" stroke-linecap="round"/>
<polyline points="962.4,215.8 965.2,209.9 968.6,208.5 972,207.1 975.6,205.8 976,201.5 978.8,198.1 981,195.8 981.7,191.3 983.8,187.9 986,183.6" fill="none" stroke="#222" stroke-width="1.2" stroke-linejoin="round" stroke-linecap="round"/>
<polygon points="910.7,401.6 913,399.9 917.6,399.9 924.4,397.6 933.4,395.9 939.1,395.3 939.7,399.9 933.4,401 924.4,403.3 917.6,405.5 911.9,407.2" fill="#fff"/>
<polygon points="949.3,389.1 951.6,388.2 958.4,391.9 960.1,394.8 958.4,397 953.8,394.8 949.9,392.5" fill="#fff"/>
<polygon points="948.2,397.6 951.6,396.5 958.4,400.4 964.6,404.4 965.2,407.8 958.4,405 952.7,401.6 948.7,399.3" fill="#fff"/>
<polygon points="966.9,395.3 971.4,394.8 972.5,400.4 967.4,401.6" fill="#fff"/>
<polygon points="905.6,403.8 907.1,403.6 907.6,408.4 906.2,408.6" fill="#fff"/>
<polygon points="975.9,397 978.8,392.5 982.2,390.2 985,391.4 985,395.9 981,395.9" fill="#000"/>
<polygon points="996.9,394.8 999.7,391.9 1004.3,390.2 1008.2,391.9 1006,395.3 1002,397 997.5,397" fill="#fff"/>
<polygon points="1024.7,385.7 1028.1,382.9 1033.7,383.4 1034.3,388 1030.3,389.7 1025.8,389.1" fill="#fff"/>
<polygon points="1040.5,382.3 1042.8,381.7 1042.8,384.6 1041.1,385.1" fill="#fff"/>
<polygon points="1046.8,382.3 1050.7,381.4 1050.7,383.2 1047.3,384" fill="#fff"/>
<polygon points="1010.5,384.6 1014.5,383.4 1016.2,385.7 1015,388.5 1011.6,389.1" fill="#fff"/>
<polygon points="1006.5,375.5 1009.4,374.9 1013.3,381.2 1011.6,384.6 1008.8,380" fill="#fff"/>
<polygon points="1054.7,380.6 1059.8,378.3 1064.4,376.4 1064.4,377.8 1059.8,379.8 1055.1,382.1" fill="#fff"/>
<polygon points="996.9,370.4 1000.3,370.4 1005.4,375.5 1007.1,379.5 1004.8,380 1000.9,375.5" fill="#000"/>
<polygon points="985,391.4 988.4,391.9 991.8,394.8 991.2,397.6 985,397" fill="#000"/>
<polygon points="1105.2,356.8 1108,356.2 1107.2,359.6" fill="#000"/>
<polygon points="985.6,394.8 987.3,394.5 987.3,396.1 985.6,396.1" fill="#fff"/>
</g>
<rect x="858.8" y="169.3" width="86.7" height="5.5" fill="none" stroke="#000" stroke-width="1.6"/>
<rect x="858" y="168.5" width="44.8" height="7.1" fill="#000"/>
<text x="949.5" y="175.6" font-size="12.3" fill="#000">km</text>
<text x="858.4" y="190.9" font-size="12.7" text-anchor="middle" fill="#000">0</text>
<text x="902" y="190.9" font-size="12.7" text-anchor="middle" fill="#000">25</text>
<text x="945.9" y="190.9" font-size="12.7" text-anchor="middle" fill="#000">50</text>
<rect x="853.8" y="162.3" width="264.3" height="264.3" fill="none" stroke="#000" stroke-width="1.7" stroke-linejoin="round"/>
</g>
<g id="map4"><clipPath id="clip4"><rect x="1128.8" y="162.3" width="264.3" height="264.3"/></clipPath><g clip-path="url(#clip4)"><rect x="1128.8" y="162.3" width="264.3" height="264.3" fill="#fff"/>
<rect x="1125" y="158" width="272" height="272" fill="#c3e7f9"/>
<polygon points="1126.8,223.8 1133.6,222.1 1141,220.5 1148.3,219 1154,217.6 1159.7,216.2 1165.3,215.6 1171,215.6 1176.7,216.8 1182.3,218.5 1188,220.7 1193.7,224.1 1198.2,227.6 1201.6,231 1203.3,234.4 1205,236.1 1208.4,236.1 1210.7,236.6 1214.1,238.3 1217.5,237.2 1220.9,234.9 1224.3,232.1 1227.7,229.3 1231.1,226.4 1234.5,223.6 1237.9,220.7 1241.3,217.9 1243.6,216.8 1247,217.9 1250.4,219.6 1253.8,221.9 1256,225.3 1260,228.1 1262.3,232.1 1265.1,236.1 1267.9,239.5 1271.3,242.9 1274.7,245.7 1278.7,246.3 1281.5,248 1283.8,249.1 1285.5,253.6 1287.2,258.2 1288.3,262.7 1287.5,264.1 1286.4,268.1 1284.1,272 1283.9,276 1284.7,280.5 1285.8,285.1 1287.5,288.5 1289.2,291.9 1290.3,295.3 1292.6,298.7 1295.4,302.1 1298.3,305.5 1301.1,309.5 1303.9,312.9 1306.8,316.3 1308.5,319.7 1309.6,321.9 1309.9,322.2 1312.7,326.2 1315.5,329 1318.9,330.1 1322.3,329 1325.2,331.3 1325.7,335.2 1327.4,339.2 1329.1,342.6 1332,346.6 1334.3,348.8 1337.7,348.8 1340.5,350.5 1343.9,353.9 1347.3,357.9 1350.1,361.9 1350.7,365.9 1353,369.8 1356.4,373.2 1358.6,376.1 1360.9,378.3 1356.4,378.3 1350.7,378.3 1346.2,379.5 1341.6,382.3 1337.1,385.7 1332.6,388.5 1329.1,390.2 1325.7,390.8 1323.5,393.1 1325.2,395.9 1329.1,396.5 1332.6,398.2 1337.1,396.5 1342.8,394.8 1347.3,392.5 1353,389.1 1358.6,385.7 1363.2,382.9 1367.7,379.5 1372.2,374.9 1376.2,369.8 1379.6,364.1 1381.9,359.6 1384.1,355.1 1385.3,350.5 1384.7,346 1383.6,340.3 1383,334.7 1382.4,329 1382.4,323.3 1383,317.7 1382.4,312 1380.7,306.3 1377.9,300.7 1374.5,295 1372.2,291 1368.8,285.4 1365.4,279.7 1362,274 1359.8,268.4 1356.9,262.7 1355.2,258.2 1356.4,254.8 1355.2,251.4 1351.8,246.8 1347.3,241.2 1342.8,235.5 1338.2,228.7 1333.7,221.9 1330.3,215.1 1326.9,208.3 1323.5,200.3 1320.6,192.4 1317.8,186.7 1316.1,182.8 1315,177.7 1316.1,173.1 1315.5,168.6 1317.8,165.2 1318.9,160.1 1318.5,150 1120,150" fill="#fff"/>
<polygon points="1135.3,196 1159.7,194.1 1160.2,213.9 1158.5,215.1 1154,217.3 1148.3,219 1141,220.5 1142.7,217.3 1141.5,213.9 1142.1,209.4 1140.4,206 1137,203.7 1134.7,200.3" fill="#d96027"/>
<polyline points="1147.2,195.2 1145.5,200.3 1147.2,206 1150,210.5 1152.9,212.8" fill="none" stroke="#666" stroke-width="0.8" stroke-linejoin="round" stroke-linecap="round"/>
<polygon points="1159.7,194.1 1181.8,191.8 1182.3,199.8 1186.9,200.3 1185.7,204.9 1188,209.4 1186.3,211.7 1190.3,209.4 1198.8,208.8 1199.1,204.3 1201.6,204.3 1202.2,217.3 1203.9,216.8 1210.7,216.2 1211.3,220.7 1213.5,223 1214.7,221.3 1225.4,219.6 1228.8,221.9 1232.2,221.3 1234.5,223.6 1231.1,226.4 1227.7,229.3 1224.3,232.1 1220.9,234.9 1217.5,237.2 1214.1,238.3 1210.7,236.6 1208.4,236.1 1205,236.1 1203.3,234.4 1201.6,231 1198.2,227.6 1193.7,224.1 1188,220.7 1182.3,218.5 1176.7,216.8 1171,215.6 1165.3,215.6 1160.2,216.2 1160.2,213.9" fill="#7570b3"/>
<polyline points="1171.6,193 1173.3,213.9" fill="none" stroke="#666" stroke-width="0.8" stroke-linejoin="round" stroke-linecap="round"/>
<polyline points="1186.3,211.7 1185.2,217.9" fill="none" stroke="#666" stroke-width="0.8" stroke-linejoin="round" stroke-linecap="round"/>
<polyline points="1202.2,217.3 1203.9,223 1204.5,228.7" fill="none" stroke="#666" stroke-width="0.8" stroke-linejoin="round" stroke-linecap="round"/>
<polyline points="1214.7,221.3 1213.5,223 1214.7,227.6 1210.7,231 1208.4,233.2 1207.9,236.1" fill="none" stroke="#666" stroke-width="0.8" stroke-linejoin="round" stroke-linecap="round"/>
<polygon points="1222,211.1 1235.6,208.3 1240.7,209.4 1241.9,217.3 1237.9,220.7 1234.5,223.6 1232.2,221.3 1228.8,221.9 1225.4,219.6 1224.3,215.1" fill="#1b9e77"/>
<polyline points="1235.1,208.5 1237.3,218.5" fill="none" stroke="#666" stroke-width="0.8" stroke-linejoin="round" stroke-linecap="round"/>
<polygon points="1261.7,227.6 1264.5,221.9 1276.4,219.6 1277,223 1277.6,227 1284.4,226.6 1293.4,228.7 1294,236.6 1290.6,238.3 1290.8,244.6 1286.1,245.7 1283.8,248.9 1281.5,248 1278.7,246.3 1274.7,245.7 1271.3,242.9 1267.9,239.5 1265.1,236.1 1262.3,232.1" fill="#1b9e77"/>
<polyline points="1275.9,220.2 1276.4,227.6 1274.7,234.4 1271.3,238.9" fill="none" stroke="#666" stroke-width="0.8" stroke-linejoin="round" stroke-linecap="round"/>
<polygon points="1296.8,183.3 1299.1,181.1 1305.3,182.2 1309.9,182.8 1313.3,181.6 1316.1,182.8 1317.8,186.7 1320.6,192.4 1323.5,200.3 1326.9,208.3 1330.3,215.1 1333.7,221.9 1338.2,228.7 1342.8,235.5 1347.3,241.2 1349.6,244.6 1339.4,245.1 1340.5,249.1 1338.2,245.7 1336,244.6 1333.7,245.7 1328,244.6 1326.9,241.2 1323.5,238.9 1320.1,234.4 1315.5,231 1321.8,228.1 1323.5,231 1320.1,223 1318.9,218.5 1315.5,211.7 1312.1,204.9 1311,202 1300.2,203.2 1299.1,199.2 1298.5,189" fill="#d96027"/>
<polyline points="1300.8,199.2 1307.6,189 1313.3,187.9 1316.7,191.3" fill="none" stroke="#666" stroke-width="0.8" stroke-linejoin="round" stroke-linecap="round"/>
<polyline points="1311.6,203.7 1317.8,203.7 1318.4,199.2" fill="none" stroke="#666" stroke-width="0.8" stroke-linejoin="round" stroke-linecap="round"/>
<polyline points="1318.9,219 1325.2,217.9 1326.9,213.9" fill="none" stroke="#666" stroke-width="0.8" stroke-linejoin="round" stroke-linecap="round"/>
<polyline points="1323.5,231 1330.3,229.8 1330.9,225.3" fill="none" stroke="#666" stroke-width="0.8" stroke-linejoin="round" stroke-linecap="round"/>
<polygon points="1339.4,245.1 1349.6,244.6 1351.8,246.8 1355.2,251.4 1356.4,254.8 1355.2,258.2 1356.9,262.7 1359.8,268.4 1361.5,272.9 1360.9,275.2 1347.9,276.9 1346.2,268.4 1344.5,259.3 1341.6,252.5" fill="#7570b3"/>
<polygon points="1347.9,276.9 1360.9,275.2 1362,274 1365.4,279.7 1368.8,285.4 1372.2,291 1374.5,295 1377.9,300.7 1380.7,306.3 1382.4,312 1383,317.7 1382.4,323.3 1382.4,329 1383,334.7 1383.6,340.3 1384.7,346 1385.3,350.5 1384.1,355.1 1381.9,359.6 1379.6,364.1 1376.2,369.8 1372.2,374.9 1367.7,379.5 1363.2,382.9 1358.6,385.7 1353,389.1 1347.3,392.5 1342.8,394.8 1337.1,396.5 1332.6,398.2 1329.1,396.5 1325.2,395.9 1323.5,393.1 1325.7,390.8 1329.1,390.2 1332.6,388.5 1337.1,385.7 1341.6,382.3 1346.2,379.5 1350.7,378.3 1356.4,378.3 1360.9,378.3 1358.6,376.1 1356.4,373.2 1353,369.8 1350.7,365.9 1350.1,361.9 1347.3,357.9 1343.9,353.9 1340.5,350.5 1337.7,348.8 1334.3,348.8 1332,346.6 1329.1,342.6 1327.4,339.2 1325.7,335.2 1325.2,331.3 1322.3,329 1318.9,330.1 1315.5,329 1312.7,326.2 1309.9,322.2 1308.2,317.7 1312.1,318.8 1331.4,316.5 1333.1,324.7 1342.2,323.3 1343.3,329 1343.9,331.5 1355.8,329 1355.2,323.3 1353,315.4 1353,305.2 1356.9,299.5 1356.4,295 1355.2,285.4 1350.7,284.2 1348.4,279.7" fill="#d96027"/>
<polygon points="1287.5,266.4 1303.4,262.4 1308.5,261.3 1309,268.6 1307.3,271.5 1310.2,272.6 1312.4,288.5 1314.1,297.6 1315.8,309.5 1310.2,310.6 1308.5,315.7 1306.8,316.3 1303.9,312.9 1301.1,309.5 1298.3,305.5 1295.4,302.1 1292.6,298.7 1290.3,295.3 1289.2,291.9 1287.5,288.5 1285.8,285.1 1284.7,280.5 1283.9,276 1284.1,272 1286.4,268.1 1287.5,264.1" fill="#d96027"/>
<polyline points="1289.2,274.3 1309,271.5" fill="none" stroke="#666" stroke-width="0.8" stroke-linejoin="round" stroke-linecap="round"/>
<polyline points="1292.6,274.9 1293.7,280.5 1296.6,282.8 1297.1,288.5" fill="none" stroke="#666" stroke-width="0.8" stroke-linejoin="round" stroke-linecap="round"/>
<polyline points="1297.7,291.3 1312.4,289" fill="none" stroke="#666" stroke-width="0.8" stroke-linejoin="round" stroke-linecap="round"/>
<polyline points="1296,299.8 1308.5,298.1 1309,304.4 1314.7,304.9" fill="none" stroke="#666" stroke-width="0.8" stroke-linejoin="round" stroke-linecap="round"/>
<polygon points="1309.9,310.9 1330.9,307.5 1331.4,316.5 1312.1,318.8 1308.2,317.7 1305.9,313.7" fill="#7570b3"/>
<polygon points="1355.8,327.3 1381.3,323.9 1382.7,329 1383,334.7 1358.1,338.6 1356.4,332.4" fill="#7570b3"/>
<polyline points="1296.3,298.4 1308.7,297.8 1309.3,304.1 1315.5,304.6" fill="none" stroke="#666" stroke-width="1.0" stroke-linejoin="round" stroke-linecap="round"/>
<polyline points="1353,306.3 1377.9,302.4" fill="none" stroke="#666" stroke-width="1.0" stroke-linejoin="round" stroke-linecap="round"/>
<polyline points="1333.1,324.7 1333.7,327.9 1330.9,329 1330.9,332.4 1326.9,333" fill="none" stroke="#666" stroke-width="1.0" stroke-linejoin="round" stroke-linecap="round"/>
<polyline points="1339.4,348.3 1357.5,345.4 1358.1,338.6" fill="none" stroke="#666" stroke-width="1.0" stroke-linejoin="round" stroke-linecap="round"/>
<polyline points="1358.1,345.4 1362,358.5 1363.2,365.9 1366.6,366.4 1374.5,363" fill="none" stroke="#666" stroke-width="1.0" stroke-linejoin="round" stroke-linecap="round"/>
<polyline points="1126.8,223.8 1133.6,222.1 1141,220.5 1148.3,219 1154,217.6 1159.7,216.2 1165.3,215.6 1171,215.6 1176.7,216.8 1182.3,218.5 1188,220.7 1193.7,224.1 1198.2,227.6 1201.6,231 1203.3,234.4 1205,236.1 1208.4,236.1 1210.7,236.6 1214.1,238.3 1217.5,237.2 1220.9,234.9 1224.3,232.1 1227.7,229.3 1231.1,226.4 1234.5,223.6 1237.9,220.7 1241.3,217.9 1243.6,216.8 1247,217.9 1250.4,219.6 1253.8,221.9 1256,225.3 1260,228.1 1262.3,232.1 1265.1,236.1 1267.9,239.5 1271.3,242.9 1274.7,245.7 1278.7,246.3 1281.5,248 1283.8,249.1 1285.5,253.6 1287.2,258.2 1288.3,262.7 1287.5,264.1 1286.4,268.1 1284.1,272 1283.9,276 1284.7,280.5 1285.8,285.1 1287.5,288.5 1289.2,291.9 1290.3,295.3 1292.6,298.7 1295.4,302.1 1298.3,305.5 1301.1,309.5 1303.9,312.9 1306.8,316.3 1308.5,319.7 1309.6,321.9 1309.9,322.2 1312.7,326.2 1315.5,329 1318.9,330.1 1322.3,329 1325.2,331.3 1325.7,335.2 1327.4,339.2 1329.1,342.6 1332,346.6 1334.3,348.8 1337.7,348.8 1340.5,350.5 1343.9,353.9 1347.3,357.9 1350.1,361.9 1350.7,365.9 1353,369.8 1356.4,373.2 1358.6,376.1 1360.9,378.3 1356.4,378.3 1350.7,378.3 1346.2,379.5 1341.6,382.3 1337.1,385.7 1332.6,388.5 1329.1,390.2 1325.7,390.8 1323.5,393.1 1325.2,395.9 1329.1,396.5 1332.6,398.2 1337.1,396.5 1342.8,394.8 1347.3,392.5 1353,389.1 1358.6,385.7 1363.2,382.9 1367.7,379.5 1372.2,374.9 1376.2,369.8 1379.6,364.1 1381.9,359.6 1384.1,355.1 1385.3,350.5 1384.7,346 1383.6,340.3 1383,334.7 1382.4,329 1382.4,323.3 1383,317.7 1382.4,312 1380.7,306.3 1377.9,300.7 1374.5,295 1372.2,291 1368.8,285.4 1365.4,279.7 1362,274 1359.8,268.4 1356.9,262.7 1355.2,258.2 1356.4,254.8 1355.2,251.4 1351.8,246.8 1347.3,241.2 1342.8,235.5 1338.2,228.7 1333.7,221.9 1330.3,215.1 1326.9,208.3 1323.5,200.3 1320.6,192.4 1317.8,186.7 1316.1,182.8 1315,177.7 1316.1,173.1 1315.5,168.6 1317.8,165.2 1318.9,160.1" fill="none" stroke="#1a1414" stroke-width="1.35" stroke-linejoin="round" stroke-linecap="round"/>
<polyline points="1126.8,223.8 1133.6,222.1 1141,220.5" fill="none" stroke="#000" stroke-width="2.0" stroke-linejoin="round" stroke-linecap="round"/>
<polyline points="1243.6,216.8 1247,217.9 1250.4,219.6 1253.8,221.9 1256,225.3 1260,228.1 1262.3,232.1" fill="none" stroke="#000" stroke-width="2.2" stroke-linejoin="round" stroke-linecap="round"/>
<polyline points="1283.8,249.1 1285.5,253.6 1287.2,258.2 1288.3,262.7" fill="none" stroke="#000" stroke-width="2.2" stroke-linejoin="round" stroke-linecap="round"/>
<polyline points="1281.8,247.7 1283.5,250.5 1285.2,254.5 1286.9,259 1287.5,264.1" fill="none" stroke="#000" stroke-width="2.2" stroke-linejoin="round" stroke-linecap="round"/>
<polyline points="1316.1,182.8 1315,177.7 1316.1,173.1 1315.5,168.6 1317.8,165.2 1318.9,160.1" fill="none" stroke="#000" stroke-width="2.0" stroke-linejoin="round" stroke-linecap="round"/>
<polyline points="1135.3,196 1181.8,191.8 1209.6,188.2" fill="none" stroke="#000" stroke-width="1.6" stroke-linejoin="round" stroke-linecap="round"/>
<polyline points="1135.3,196 1134.7,200.3 1137,203.7 1140.4,206 1142.1,209.4 1141.5,213.9 1142.7,217.3 1141,220.5" fill="none" stroke="#222" stroke-width="1.0" stroke-linejoin="round" stroke-linecap="round"/>
<polyline points="1203.3,160.1 1204.5,164.1 1206.2,166.3 1207.3,172 1206.7,177.7 1208.4,183.3 1210.7,187.9 1213,192.4 1214.7,196.4 1216.4,197.2 1260,193.5 1293.4,191.3 1294,194.7 1295.1,198.3 1297.6,198.6" fill="none" stroke="#000" stroke-width="2.2" stroke-linejoin="round" stroke-linecap="round"/>
<polyline points="1297.6,198.6 1297,183.3 1299.1,181.1 1305.3,182.2 1309.9,182.8 1313.3,181.6 1315.5,182.8" fill="none" stroke="#1a1a1a" stroke-width="1.4" stroke-linejoin="round" stroke-linecap="round"/>
<polygon points="1141,219.8 1154,214.2 1159.9,212.6 1160.4,215.3 1154,217.3 1142.7,221.9" fill="#fff"/>
<polygon points="1174.4,213.4 1183.5,214.5 1185.7,216.2 1183.5,217 1174.4,215.1" fill="#fff"/>
<polygon points="1192.6,220.2 1199.4,225.3 1202.8,228.7 1201.6,229.8 1197.1,226.4 1192.6,222.4" fill="#fff"/>
<polygon points="1209.6,232.7 1215.2,232.1 1217.5,234.4 1214.1,236.1 1210.1,234.9" fill="#fff"/>
<polygon points="1222,231 1228.8,225.9 1230.5,227.6 1224.3,232.7" fill="#fff"/>
<polygon points="1231.7,222.4 1234.5,217.3 1235.9,220.7 1233.4,224.1" fill="#fff"/>
<polygon points="1341.6,241.2 1344.5,239.5 1349.6,245.7 1347.3,251.4 1345,248" fill="#fff"/>
<polygon points="1314.4,182.8 1316.1,183.3 1318.4,189 1316.7,189.6" fill="#fff"/>
<polygon points="1318.9,200.3 1320.6,200.9 1322.9,208.3 1321.2,208.8" fill="#fff"/>
<polygon points="1324.6,213.9 1326.3,214.5 1328,219.6 1326.3,219.8" fill="#fff"/>
<polygon points="1329.7,223 1331.4,223 1332.6,226.4 1330.9,227" fill="#fff"/>
<polygon points="1337.1,234.4 1339.4,234.9 1342.2,239.5 1339.9,239.5" fill="#fff"/>
<polygon points="1285.5,272.3 1287.2,272.9 1288.3,278.6 1286.6,279.1" fill="#fff"/>
<polygon points="1290.6,287.6 1292.9,288.2 1291.7,295 1289.7,295" fill="#fff"/>
<polygon points="1298,287.6 1299.9,288.2 1297.4,295 1295.7,295" fill="#fff"/>
<polygon points="1358.6,272.9 1360.3,273.5 1362,277.4 1360.3,277.7" fill="#fff"/>
<polygon points="1363.2,280.8 1364.9,281.1 1367.7,287.6 1366,287.9" fill="#fff"/>
<polygon points="1375.6,351.7 1377.9,347.1 1380.2,343.7 1382.4,346 1383,351.7 1381.9,358.5 1378.5,363 1375.6,361.9 1376.2,356.2" fill="#fff"/>
<polygon points="1334.3,389.7 1339.4,386.8 1346.2,384.6 1353,382.3 1354.1,384.6 1348.4,388 1341.6,391.4 1336,393.6" fill="#fff"/>
<polygon points="1310.4,319.9 1313.3,323.3 1316.7,327.3 1321.2,327.3 1321.8,329 1316.7,329 1312.1,325.6" fill="#fff"/>
<polygon points="1328,339.8 1331.4,341.5 1334.8,346 1332.6,348.3 1329.1,343.7" fill="#fff"/>
<polygon points="1361.5,378.9 1363.7,378.3 1364.9,380 1362.6,381.2" fill="#fff"/>
<polygon points="1366.6,374.4 1368.8,373.2 1370,374.9 1367.7,376.1" fill="#fff"/>
<polygon points="1371.7,369.3 1373.4,368.1 1374.5,369.8 1372.8,371.2" fill="#fff"/>
<polygon points="1376.8,304.1 1378.5,304.6 1379,307.5 1377.3,307.2" fill="#fff"/>
<polygon points="1372.2,296.1 1373.9,296.7 1375.1,299.5 1373.4,299.3" fill="#fff"/>
<polygon points="1294,295 1296.3,295.6 1297.4,297.8 1295.4,297.8" fill="#fff"/>
<polygon points="1299.7,301.8 1301,302 1302.5,305.8 1301,305.8" fill="#fff"/>
<polygon points="1357.5,382.9 1359.8,381.7 1360.9,383.4 1358.6,384.6" fill="#fff"/>
<polygon points="1285.8,275.4 1287.5,276 1288.6,281.7 1286.9,281.7" fill="#fff"/>
<polygon points="1291.5,291.9 1293.2,289.6 1294.9,290.2 1293.2,294.1" fill="#fff"/>
<polygon points="1296.6,289 1298.6,287.9 1299.4,289.6 1297.1,293" fill="#fff"/>
<polygon points="1299.4,303.2 1301.1,303.8 1302.2,306.6 1300.5,306.6" fill="#fff"/>
<polygon points="1310.2,321.4 1311.9,320.8 1314.1,325.9 1312.4,326.5" fill="#fff"/>
<polygon points="1319.2,328.7 1320.9,327 1322.1,329.9 1320.4,331" fill="#fff"/>
<polygon points="1332.6,346 1334.8,345.4 1335.4,348.3 1333.1,348.8" fill="#000"/>
<polygon points="1346.2,386.3 1347.9,384.6 1349.6,386.3" fill="#000"/>
<polygon points="1350.7,385.7 1352,384 1353.5,385.7" fill="#000"/>
<polygon points="1376.8,364.1 1378.5,363.6 1378.5,365.9 1377,365.9" fill="#000"/>
<polygon points="1308.2,315.4 1309.7,315.2 1309.9,317.1 1308.5,317.2" fill="#000"/>
<polygon points="1364.9,377.8 1366.6,377.5 1366.6,379.1 1365.2,379.1" fill="#000"/>
<polygon points="1339.4,389.7 1340.7,388.9 1341.6,390.4" fill="#000"/>
<polygon points="1379.6,330.1 1381.1,330.1 1381.1,332.4 1379.7,332.4" fill="#000"/>
<polygon points="1171,212.8 1173.3,212.6 1173.5,214.2 1171.2,214.2" fill="#000"/>
<polygon points="1130.8,218.5 1131.9,218.3 1133.4,220.2 1132.2,220.5" fill="#000"/>
<polygon points="1192.6,219 1193.9,219 1194.3,220.7 1192.9,220.7" fill="#000"/>
<polygon points="1355,268.4 1356.9,268.4 1356.9,270.6 1355,270.6" fill="#000"/>
<ellipse cx="1204.8" cy="230.4" rx="2.1" ry="3.6" fill="#fff" stroke="#000" stroke-width="1.3"/>
<ellipse cx="1303.1" cy="393.1" rx="4.2" ry="2.9" fill="#fff" stroke="#000" stroke-width="1.8" transform="rotate(-28 1303.1 393.1)"/>
</g>
<rect x="1135.8" y="169.3" width="119.6" height="5.5" fill="none" stroke="#000" stroke-width="1.6"/>
<rect x="1135" y="168.5" width="61.5" height="7.1" fill="#000"/>
<text x="1259.6" y="175.6" font-size="12.3" fill="#000">km</text>
<text x="1135.4" y="190.9" font-size="12.7" text-anchor="middle" fill="#000">0</text>
<text x="1195.6" y="190.9" font-size="12.7" text-anchor="middle" fill="#000">200</text>
<text x="1256" y="190.9" font-size="12.7" text-anchor="middle" fill="#000">400</text>
<rect x="1128.8" y="162.3" width="264.3" height="264.3" fill="none" stroke="#000" stroke-width="1.7" stroke-linejoin="round"/>
</g>
<g id="map5"><clipPath id="clip5"><rect x="1403.8" y="162.3" width="264.3" height="264.3"/></clipPath><g clip-path="url(#clip5)"><rect x="1403.8" y="162.3" width="264.3" height="264.3" fill="#fff"/>
<polygon points="1654.6,159.5 1650.6,165.2 1646.7,168 1648.4,172 1648.4,176.5 1646.7,181.1 1645,185.6 1643.8,191.3 1640.4,196.9 1637,202.6 1633.6,209.4 1630.2,216.2 1625.7,223 1622.3,227.6 1621.2,233.2 1617.8,238.9 1614.4,241.2 1613.9,247 1613.4,252.7 1613.9,258.3 1612.8,266.3 1612.2,274.2 1608.8,281 1605.4,288.9 1602.6,296.9 1606,302.6 1606,309.4 1605.4,316.2 1606,320.7 1604.9,326.4 1603.2,332 1600.9,337.7 1596.4,340.5 1593,342.2 1594.7,346.8 1596.4,352.4 1593,357 1589.6,360.4 1589.6,363.8 1594.1,367.2 1596.4,370 1595.9,376.6 1593.1,382.3 1592.5,391.4 1590.8,400.4 1589.1,408.4 1589.7,411.8 1594.2,414 1597.1,418.6 1598.2,423.1 1598.8,428.8 1680,440 1680,150" fill="#c3e7f9"/>
<polygon points="1495.3,181.1 1535,162 1535,159.5 1545.2,159.5 1547.5,168.6 1549.7,175.4 1553.1,181.6 1557.7,186.7 1562.2,191.3 1567.9,196.9 1571.3,202.6 1574.7,208.3 1580.3,211.7 1584.9,208.3 1588.3,210.5 1592.8,213.9 1595.1,217.3 1591.7,220.7 1589.4,225.3 1588.3,232.1 1587.1,238.9 1591.7,241.2 1596.2,242.9 1593.9,246.8 1592.2,251.4 1593.9,257 1596.8,263.8 1596.2,268.4 1597.3,272.3 1591.7,274 1586,275.7 1580.3,276.9 1579.2,280.8 1576.9,286.5 1574.7,291 1578.1,293.3 1578.2,294.6 1582.8,298 1580.5,303.7 1578.8,307.1 1572.6,309.4 1565.7,311.6 1564.6,316.2 1556.7,313.9 1548.7,309.4 1541.9,304.8 1536.3,299.1 1536.8,295.7 1532.9,292.3 1529.5,288.9 1527.8,285.5 1534,279.9 1541.9,275.3 1544.2,267.4 1546.5,259.5 1548.7,253.2 1534,248.1 1524.9,244.7 1524.4,242.5 1514.7,236.2 1505.7,230 1504.4,227.6 1503.8,223 1505.5,218.5 1504.4,213.9 1501.6,210.5 1494.8,211.1 1491.4,207.1 1494.8,203.7 1498.2,199.8 1501.6,194.7 1503.8,190.1 1499.3,187.9" fill="#1b9e77" stroke="#7a6a6a" stroke-width="0.4" stroke-linejoin="round"/>
<polyline points="1503.8,190.1 1508.4,191.3 1515.2,194.7 1520.8,200.3 1525.4,206 1531,210.5 1535,209.4 1542.9,205.4 1546.3,208.3 1554.3,209.4 1557.7,216.2 1562.2,223 1567.9,227.6 1572.4,232.1 1578.1,234.4 1580.3,237.8 1587.1,238.9" fill="none" stroke="#666" stroke-width="1.0" stroke-linejoin="round" stroke-linecap="round"/>
<polyline points="1548.7,253.2 1553.3,257.2 1558.9,261.2 1564.6,258.9 1570.3,258.3 1576,255.5 1581.6,256.1 1588.4,257.8 1595.2,262.9" fill="none" stroke="#666" stroke-width="1.0" stroke-linejoin="round" stroke-linecap="round"/>
<polygon points="1608.1,241.7 1614.4,241.2 1613.9,247 1613.4,252.7 1613.9,258.3 1612.8,266.3 1612.2,274.2 1608.8,281 1605.4,288.9 1602.6,296.9 1606,302.6 1606,309.4 1605.4,316.2 1596.4,317.3 1593,303.7 1597.5,293.5 1602,281 1604.9,273.1 1606,264 1607.1,252.7" fill="#1b9e77"/>
<polyline points="1604.9,273.1 1612.2,274.2" fill="none" stroke="#666" stroke-width="1.0" stroke-linejoin="round" stroke-linecap="round"/>
<polygon points="1553.1,181.6 1569,159.5 1590,159.5 1591.7,165.2 1592.8,168.6 1596.2,172 1600.7,174.3 1605.3,173.7 1608.7,172 1612.1,173.7 1616.6,176 1621.2,179.4 1647.2,176.5 1646.7,181.1 1645,185.6 1643.8,191.3 1640.4,196.9 1637,202.6 1633.6,209.4 1630.2,216.2 1625.7,223 1622.3,227.6 1621.2,233.2 1617.8,238.9 1614.4,241.2 1608.1,241.7 1614.4,232.1 1621.2,221.9 1628,210.5 1633.6,200.3 1637.6,190.1 1634.8,186.2 1631.4,185 1629.1,187.3 1624.6,187.9 1621.2,184.5 1618.9,185 1616.6,189 1613.2,193.5 1612.1,195.8 1616.6,199.2 1614.4,200.3 1613.2,204.9 1611,208.3 1607.6,210.5 1606.4,213.9 1603,213.9 1603,216.2 1595.1,217.3 1592.8,213.9 1588.3,210.5 1584.9,208.3 1580.3,211.7 1574.7,208.3 1571.3,202.6 1567.9,196.9 1562.2,191.3 1557.7,186.7" fill="#d96027"/>
<polygon points="1583.2,211.7 1584.9,208.3 1586.6,207.1 1587.4,208.8 1585.4,212.2 1584,213.4" fill="#1b9e77"/>
<polygon points="1536.3,299.1 1541.9,304.8 1548.7,309.4 1556.7,313.9 1564.6,316.2 1570.3,319.6 1572.6,321.8 1577.1,320.7 1579.4,319.6 1583.9,320.1 1583.3,326.4 1581.6,330.9 1586.2,332 1590.7,334.3 1593.5,332 1595.8,326.4 1596.4,320.7 1596.4,317.3 1605.4,316.2 1606,320.7 1604.9,326.4 1603.2,332 1600.9,337.7 1596.4,340.5 1593,342.2 1594.7,346.8 1596.4,352.4 1593,357 1589.6,360.4 1589.6,363.8 1594.1,367.2 1596.4,370 1596.5,371 1583.5,373.2 1582.9,369.8 1580.6,353.9 1578.9,348.8 1573.8,350.5 1570.4,353.9 1567,352.8 1563.1,354.5 1564.8,361.3 1560.2,363 1556.8,359.6 1554.6,353.9 1551.2,356.2 1544.4,357.9 1537.6,356.8 1530.7,353.9 1523.9,352.8 1520.5,351.1 1521.7,340.3 1523.4,329 1523.9,322.2 1526.8,315.4 1526.8,309.2 1530.7,308.6 1534.1,302.9" fill="#d96027"/>
<ellipse cx="1583.5" cy="341.5" rx="3.3" ry="2.8" fill="#fff"/>
<polygon points="1576.7,359.8 1578,359.6 1578.1,361.7 1576.8,361.7" fill="#d96027"/>
<polygon points="1573.3,370.7 1578.4,371.6 1583.5,371.9 1583.8,373.7 1576.7,373.9 1573.8,373.2" fill="#d96027"/>
<polygon points="1520.5,351.1 1515.4,353.9 1513.7,360.7 1512.6,364.1 1506.9,364.7 1502.4,367.6 1500.1,373.2 1504.1,376.6 1505.2,384.6 1508.6,390.2 1507.5,398.2 1510.3,402.7 1510.9,412.9 1514.9,416.9 1521.7,418 1528.5,418.6 1533,420.8 1538.7,422 1544.4,422.5 1548.9,420.8 1553.4,423.1 1558,424.2 1562.5,423.7 1567,424.2 1571.6,422.5 1576.1,420.8 1573.8,412.9 1570.4,406.1 1567.6,399.3 1567,392.5 1564.8,388 1566.5,383.4 1565.9,378.9 1570.4,375.5 1576.7,373.2 1573.8,368.7 1567,365.3 1564.8,361.3 1560.2,363 1556.8,359.6 1554.6,353.9 1551.2,356.2 1544.4,357.9 1537.6,356.8 1530.7,353.9 1523.9,352.8" fill="#1b9e77" stroke="#7a6a6a" stroke-width="0.4" stroke-linejoin="round"/>
<polygon points="1583.5,373.2 1596.5,371 1595.9,376.6 1593.1,382.3 1592.5,391.4 1590.8,400.4 1589.1,408.4 1589.7,411.8 1594.2,414 1597.1,418.6 1597.6,420.8 1588,423.1 1585.2,418.6 1582.9,412.9 1582.3,406.1 1584,397 1585.2,385.7 1584.6,378.9" fill="#1b9e77"/>
<polyline points="1654.6,159.5 1650.6,165.2 1646.7,168 1648.4,172 1648.4,176.5 1646.7,181.1 1645,185.6 1643.8,191.3 1640.4,196.9 1637,202.6 1633.6,209.4 1630.2,216.2 1625.7,223 1622.3,227.6 1621.2,233.2 1617.8,238.9 1614.4,241.2 1613.9,247 1613.4,252.7 1613.9,258.3 1612.8,266.3 1612.2,274.2 1608.8,281 1605.4,288.9 1602.6,296.9 1606,302.6 1606,309.4 1605.4,316.2 1606,320.7 1604.9,326.4 1603.2,332 1600.9,337.7 1596.4,340.5 1593,342.2 1594.7,346.8 1596.4,352.4 1593,357 1589.6,360.4 1589.6,363.8 1594.1,367.2 1596.4,370 1595.9,376.6 1593.1,382.3 1592.5,391.4 1590.8,400.4 1589.1,408.4 1589.7,411.8 1594.2,414 1597.1,418.6 1598.2,423.1 1598.8,428.8" fill="none" stroke="#3a2a2a" stroke-width="1.3" stroke-linejoin="round" stroke-linecap="round"/>
<polyline points="1654.6,159.5 1650.6,165.2 1646.7,168 1648.4,172 1648.4,176.5" fill="none" stroke="#000" stroke-width="2.2" stroke-linejoin="round" stroke-linecap="round"/>
<polyline points="1590,159.5 1591.7,165.2 1592.8,168.6 1596.2,172 1600.7,174.3 1605.3,173.7 1608.7,172 1612.1,173.7 1616.6,176 1621.2,179.4" fill="none" stroke="#000" stroke-width="2.0" stroke-linejoin="round" stroke-linecap="round"/>
<polyline points="1621.2,179.4 1647.2,176.5" fill="none" stroke="#223" stroke-width="1.3" stroke-linejoin="round" stroke-linecap="round"/>
<polyline points="1494.7,428.8 1493.9,423.1 1496.2,420.8 1499,422.5 1501.8,420.8 1502.4,416.9 1504.7,413.5 1508.1,414 1510.9,413.5" fill="none" stroke="#000" stroke-width="2.4" stroke-linejoin="round" stroke-linecap="round"/>
<polyline points="1510.9,413.5 1514.9,416.9 1521.7,418 1528.5,418.6 1533,420.8 1538.7,422 1544.4,422.5 1548.9,420.8 1553.4,423.1 1558,424.2 1562.5,423.7 1567,424.2 1571.6,422.5 1576.1,420.8 1579.5,423.1" fill="none" stroke="#3a2a2a" stroke-width="1.1" stroke-linejoin="round" stroke-linecap="round"/>
<polyline points="1588,423.1 1597.6,421.1" fill="none" stroke="#3a2a2a" stroke-width="1.1" stroke-linejoin="round" stroke-linecap="round"/>
</g>
<rect x="1412" y="169.3" width="77.6" height="5.5" fill="none" stroke="#000" stroke-width="1.6"/>
<rect x="1411.2" y="168.5" width="40.5" height="7.1" fill="#000"/>
<text x="1493.6" y="175.6" font-size="12.3" fill="#000">km</text>
<text x="1411.8" y="190.9" font-size="12.7" text-anchor="middle" fill="#000">0</text>
<text x="1450.5" y="190.9" font-size="12.7" text-anchor="middle" fill="#000">25</text>
<text x="1489.7" y="190.9" font-size="12.7" text-anchor="middle" fill="#000">50</text>
<rect x="1403.8" y="162.3" width="264.3" height="264.3" fill="none" stroke="#000" stroke-width="1.7" stroke-linejoin="round"/>
</g>
<g id="map6"><clipPath id="clip6"><rect x="1678.7" y="162.3" width="264.3" height="264.3"/></clipPath><g clip-path="url(#clip6)"><rect x="1678.7" y="162.3" width="264.3" height="264.3" fill="#fff"/>
<polygon points="1945.5,166.3 1943.2,175.4 1942.1,183.3 1940.9,191.3 1939.8,198.1 1940.4,202.6 1940.9,207.1 1939.2,210.5 1935.8,211.1 1933.6,210 1931.3,207.1 1927.9,204.9 1923.4,204.3 1917.7,204.9 1912,206 1906.4,207.7 1900.7,210.5 1896.7,212.8 1892.8,215.6 1888.2,219.6 1883.7,224.1 1879.1,228.7 1875.2,233.8 1871.8,238.9 1868.9,243.4 1866.7,249.1 1864.4,254.8 1863.3,260.4 1862.7,266.1 1863.3,270.6 1865,274 1865.5,278.6 1863.3,283.1 1859.9,287.6 1856.5,291 1853.6,295 1852.5,297.4 1850,301.9 1845.4,303.6 1842,303.6 1839.8,306.5 1837.5,309.9 1834.1,313.3 1830.7,316.7 1827.3,320.1 1823.9,324 1821.6,328 1818.2,332.6 1814.8,337.1 1811.4,341.6 1808,344.5 1804.6,346.2 1801.2,348.4 1798.9,351.8 1795.5,354.1 1792.1,356.4 1789.9,359.8 1786.5,363.2 1784.2,367.7 1783.1,372.2 1780.8,375.6 1777.4,379 1774,382.4 1771.7,385.8 1768.3,389.2 1764.9,392.6 1761.5,396 1759.8,400 1759.6,398.7 1757.3,402.1 1756.7,406.1 1753.9,411.8 1750.5,417.4 1747.1,423.1 1743.1,429.3 1950,440 1950,150" fill="#c3e7f9"/>
<polygon points="1846.3,179.9 1891.6,209.4 1896.7,212.8 1892.8,215.6 1888.2,219.6 1883.7,224.1 1879.1,228.7 1875.2,233.8 1871.8,238.9 1868.9,243.4 1866.7,249.1 1864.4,254.8 1863.3,260.4 1862.7,266.1 1863.3,270.6 1865,274 1865.5,278.6 1863.3,283.1 1859.9,287.6 1856.5,291 1853.6,295 1852.5,297.4 1850,301.9 1845.4,303.6 1842,303.6 1839.8,306.5 1837.5,309.9 1834.1,313.3 1830.7,316.7 1827.3,320.1 1823.9,324 1821.6,328 1818.2,332.6 1814.8,337.1 1811.4,341.6 1808,344.5 1804.6,346.2 1801.2,348.4 1798.9,351.8 1795.5,354.1 1792.1,356.4 1789.9,359.8 1786.5,363.2 1784.2,367.7 1783.1,372.2 1780.8,375.6 1777.4,379 1774,382.4 1771.7,385.8 1768.3,389.2 1764.9,392.6 1761.5,396 1759.8,400 1759.6,398.7 1758.4,397.6 1752.8,397.6 1751.6,393.6 1747.1,395.3 1743.7,394.8 1741.4,393.6 1739.1,390.2 1736.3,386.8 1736.9,382.3 1740.9,380 1742,375.5 1745.4,372.1 1747.1,365.3 1747.1,361.9 1744.8,355.1 1743.7,349.4 1740.9,346 1741.4,343.7 1738,338.1 1734.6,333.5 1730.1,327.9 1725.5,323.3 1719.9,317.7 1728.9,309.2 1731.8,312 1731.8,306.3 1738,300.7 1743.7,301.2 1749.4,306.3 1756.2,308 1764.1,306.3 1769.8,307.5 1770.3,313.1 1772,321.1 1773.2,324.5 1778.8,323.9 1787.9,324.5 1788.5,319.4 1792.4,317.1 1793.6,313.1 1787.9,309.2 1787.9,307.5 1794.7,309.2 1798.1,308 1800.4,313.7 1803.8,314.8 1806,318.8 1808.3,321.1 1810.3,318.9 1812.6,314.4 1814.8,311 1818.2,309.9 1818.2,305.3 1822.8,297.4 1826.2,289.5 1830.7,287.2 1836.4,280.4 1829.6,277.6 1821.1,273.6 1819.4,270.2 1823.9,260 1825.9,257 1829.3,252.5 1832.1,248 1832.1,241.2 1833.8,234.4 1837.2,228.7 1839.5,229.8 1842.9,233.2 1846.3,233.8 1848,233.2 1845.1,229.8 1841.7,225.3 1840.6,220.7 1837.2,216.2 1833.8,210.5 1835.5,206 1838.3,200.3 1840,193.5 1843.4,187.9 1844,183.3" fill="#d96027" stroke="#7a5040" stroke-width="0.4" stroke-linejoin="round"/>
<polygon points="1728.4,341.5 1733.5,346 1734.6,350.5 1739.1,350.5 1740.9,346 1743.7,349.4 1744.8,355.1 1747.1,361.9 1747.1,365.3 1745.4,372.1 1742,375.5 1740.9,380 1736.9,382.3 1736.3,386.8 1739.1,390.2 1741.4,393.6 1743.7,394.8 1747.1,395.3 1751.6,393.6 1752.8,397.6 1758.4,397.6 1757.9,402.1 1752.8,402.7 1747.1,403.3 1743.7,402.1 1740.3,399.9 1736.9,401 1733.5,399.3 1729.5,398.2 1728.9,395.9 1726.7,392.5 1724.4,389.1 1725.5,385.7 1724.4,382.3 1721.6,377.8 1718.7,373.2 1717.6,368.1 1713.6,364.1 1710.2,361.3" fill="#1b9e77"/>
<polyline points="1848,233.2 1851.9,236.6 1855.3,241.2 1857.6,243.4 1868.4,241.7" fill="none" stroke="#666" stroke-width="0.9" stroke-linejoin="round" stroke-linecap="round"/>
<polyline points="1742,343.7 1749.4,344.3 1754.5,344.9 1757.3,349.4 1763,351.7 1768.6,356.2 1774.3,359.6 1783.4,362.4" fill="none" stroke="#666" stroke-width="0.8" stroke-linejoin="round" stroke-linecap="round"/>
<polyline points="1770.3,313.1 1770.9,323.3 1770.3,330.1 1772,334.7 1775.4,340.3 1776.6,344.9 1776,348.3" fill="none" stroke="#666" stroke-width="0.8" stroke-linejoin="round" stroke-linecap="round"/>
<polygon points="1853.4,263.4 1857.9,260 1859,266.8 1860.2,273.6 1859,279.3 1855.6,283.8 1852.2,289.5 1848.8,292.9 1849.4,298.5 1846.6,301.9 1842,303.1 1838.6,305.3 1835.2,308.7 1830.7,313.3 1826.2,316.7 1823.9,318.9 1818.2,319.5 1819.4,315.5 1823.9,309.9 1828.4,303.1 1831.8,296.3 1836.4,290.6 1840.9,284.9 1843.7,282.7 1839.8,281 1848.8,278.1 1852.2,277.6 1851.7,271.3" fill="#fff"/>
<polygon points="1808.6,328 1812.6,326.3 1816,327.4 1815.4,332.6 1812.6,334.8 1810.3,339.4 1806.9,341.6 1802.9,342.2 1802.3,339.4 1805.7,337.1 1808,332.6" fill="#fff"/>
<polygon points="1788.7,348.4 1793.3,346.2 1796.7,343.9 1797.8,346.2 1794.4,349.6 1791,353 1788.2,351.8" fill="#fff"/>
<polygon points="1774,354.1 1778.5,351.8 1781.9,355.2 1781.4,358.6 1778.5,360.9 1775.1,358.6" fill="#fff"/>
<polygon points="1772.3,367.7 1776.3,364.3 1779.7,364.3 1777.4,371.1 1774,372.2" fill="#fff"/>
<polygon points="1761.5,377.9 1769.5,367.7 1772.3,368.8 1774,373.4 1768.3,377.9 1762.7,382.4" fill="#fff"/>
<polygon points="1888.2,211.7 1893.3,210 1894.5,212.2 1889.4,214.5" fill="#fff"/>
<polygon points="1876.9,220.2 1880.3,219 1880.9,220.7 1878,221.9" fill="#fff"/>
<polygon points="1860.4,245.7 1862.7,245.1 1863.3,247.4 1861,251.4 1859.3,250.2" fill="#fff"/>
<polygon points="1855.9,258.7 1858.2,258.2 1858.2,260.4 1856.3,261" fill="#fff"/>
<polygon points="1744.8,398.7 1747.1,395.9 1750.5,394.2 1752.2,397 1749.4,401.6 1746,402.1" fill="#fff"/>
<polygon points="1807.4,337.1 1809.1,336.9 1809.4,338.8 1807.7,339" fill="#000"/>
<polygon points="1785.3,352.4 1787.6,352.2 1787.8,354.7 1785.6,354.9" fill="#000"/>
<polygon points="1772.3,364.3 1775.7,361.5 1777.4,363.2 1774,366.6" fill="#000"/>
<polygon points="1858,254.2 1859.4,254 1859.5,255.9 1858.1,256.1" fill="#000"/>
<polyline points="1896.7,212.8 1892.8,215.6 1888.2,219.6 1883.7,224.1 1879.1,228.7 1875.2,233.8 1871.8,238.9 1868.9,243.4 1866.7,249.1 1864.4,254.8 1863.3,260.4 1862.7,266.1 1863.3,270.6 1865,274 1865.5,278.6 1863.3,283.1 1859.9,287.6 1856.5,291 1853.6,295 1852.5,297.4 1850,301.9 1845.4,303.6 1842,303.6 1839.8,306.5 1837.5,309.9 1834.1,313.3 1830.7,316.7 1827.3,320.1 1823.9,324 1821.6,328 1818.2,332.6 1814.8,337.1 1811.4,341.6 1808,344.5 1804.6,346.2 1801.2,348.4 1798.9,351.8 1795.5,354.1 1792.1,356.4 1789.9,359.8 1786.5,363.2 1784.2,367.7 1783.1,372.2 1780.8,375.6 1777.4,379 1774,382.4 1771.7,385.8 1768.3,389.2 1764.9,392.6 1761.5,396 1759.8,400 1759.6,398.7 1757.3,402.1" fill="none" stroke="#2a2a30" stroke-width="1.4" stroke-linejoin="round" stroke-linecap="round"/>
<polyline points="1945.5,166.3 1943.2,175.4 1942.1,183.3 1940.9,191.3 1939.8,198.1 1940.4,202.6 1940.9,207.1 1939.2,210.5 1935.8,211.1 1933.6,210 1931.3,207.1 1927.9,204.9 1923.4,204.3 1917.7,204.9 1912,206 1906.4,207.7 1900.7,210.5 1896.7,212.8" fill="none" stroke="#000" stroke-width="2.2" stroke-linejoin="round" stroke-linecap="round"/>
<polyline points="1819.6,160.1 1846.3,179.9 1891.6,209.4 1896.7,212.8" fill="none" stroke="#000" stroke-width="2.0" stroke-linejoin="round" stroke-linecap="round"/>
<polyline points="1677.9,317.7 1683.6,320.5 1688.1,322.8 1689.3,326.2 1687.6,329 1689.8,332.4 1692.7,336.9 1695.5,340.3 1697.2,344.9 1698.3,350.5 1700.6,355.1 1701.2,357.9 1705.1,360.7 1710.2,361.3" fill="none" stroke="#000" stroke-width="2.6" stroke-linejoin="round" stroke-linecap="round"/>
<polyline points="1710.2,361.3 1713.6,364.1 1717.6,368.1 1718.7,373.2 1721.6,377.8 1724.4,382.3 1725.5,385.7 1724.4,389.1 1726.7,392.5 1728.9,395.9 1729.5,398.2 1733.5,399.3 1736.9,401 1740.3,399.9 1743.7,402.1 1747.1,403.3 1752.8,402.7 1757.3,402.1" fill="none" stroke="#2a1a1a" stroke-width="1.4" stroke-linejoin="round" stroke-linecap="round"/>
<polyline points="1757.3,402.1 1756.7,406.1 1753.9,411.8 1750.5,417.4 1747.1,423.1 1743.1,429.3" fill="none" stroke="#000" stroke-width="2.4" stroke-linejoin="round" stroke-linecap="round"/>
</g>
<rect x="1687.6" y="169.3" width="80.4" height="5.5" fill="none" stroke="#000" stroke-width="1.6"/>
<rect x="1686.8" y="168.5" width="41.1" height="7.1" fill="#000"/>
<text x="1772" y="175.6" font-size="12.3" fill="#000">km</text>
<text x="1687" y="190.9" font-size="12.7" text-anchor="middle" fill="#000">0</text>
<text x="1727.4" y="190.9" font-size="12.7" text-anchor="middle" fill="#000">50</text>
<text x="1768.6" y="190.9" font-size="12.7" text-anchor="middle" fill="#000">100</text>
<rect x="1678.7" y="162.3" width="264.3" height="264.3" fill="none" stroke="#000" stroke-width="1.7" stroke-linejoin="round"/>
</g>
<g id="map7"><clipPath id="clip7"><rect x="1953.3" y="160.8" width="265.9" height="265.8"/></clipPath><g clip-path="url(#clip7)"><rect x="1953.3" y="160.8" width="265.9" height="265.8" fill="#fff"/>
<polygon points="2174.1,158.4 2176.4,166.3 2178.6,173.1 2180.9,179.9 2183.2,186.7 2186,193.5 2188.8,200.3 2192.2,207.1 2195.6,213.9 2199,220.7 2201.9,227.6 2204.1,234.4 2205.3,241.2 2204.7,248 2203.6,254.8 2201.9,261.6 2200.7,268.4 2200.2,274 2198.5,278 2195.6,278.6 2193.4,276.3 2188.8,276.9 2184.3,278.6 2179.8,280.8 2175.2,283.7 2170.7,286.5 2167.3,289.3 2163.9,292.2 2161.1,295 2150,305.3 2146,309.9 2141.5,315.5 2137,321.2 2133.6,326.9 2130.7,332.6 2129,336 2125.6,337.1 2122.8,335.4 2120.5,330.3 2117.7,327.4 2112,326.3 2106.4,326.9 2100.7,328 2095,329.7 2089.4,332 2083.7,334.3 2081,334.1 2076.5,336.4 2070.8,339.2 2065.2,342.6 2059.5,346.6 2055,350 2050.4,353.9 2046.5,358.5 2042.5,363 2039.1,368.7 2036.3,374.4 2034,380 2031.7,385.7 2030,391.4 2028.9,395.9 2029.5,401 2027.8,404.4 2024.4,406.1 2021,405 2018.7,402.1 2016.4,399.3 2013,397 2007.3,395.9 2001.7,395.9 1996,396.5 1990.3,397.6 1984.1,399.3 1979,400.4 1973.3,402.7 1967.7,406.1 1962,410.6 1957.5,415.2 1951.8,422.5 1940,440 2230,440 2230,150" fill="#c3e7f9"/>
<polygon points="2141.2,158.4 2174.1,158.4 2176.4,166.3 2178.6,173.1 2180.3,184.5 2177.5,186.2 2176.4,189 2177.5,193.5 2178.1,200.3 2174.1,202 2170.7,203.2 2168.4,200.3 2167.9,195.8 2169.6,192.4 2167.3,187.9 2165,184.5 2163.9,181.1 2161.6,177.7 2158.2,176 2154.8,175.4 2152.6,172 2149.1,169.7 2146.9,166.3 2144,164.1" fill="#7570b3"/>
<polygon points="2177.5,186.2 2180.3,184.5 2183.2,186.7 2186,193.5 2188.8,200.3 2192.2,207.1 2195.6,213.9 2199,220.7 2201.9,227.6 2204.1,234.4 2205.3,241.2 2204.7,248 2203.6,254.8 2201.9,261.6 2200.7,268.4 2200.2,274 2198.5,278 2195.6,278.6 2193.4,276.3 2188.8,276.9 2184.3,278.6 2179.8,280.8 2175.2,283.7 2170.7,286.5 2167.3,289.3 2163.9,292.2 2161.1,295 2150,305.3 2146,309.9 2141.5,315.5 2137,321.2 2133.6,326.9 2130.7,332.6 2129,336 2125.6,337.1 2122.8,335.4 2120.5,330.3 2117.7,327.4 2112,326.3 2106.4,326.9 2100.7,328 2095,329.7 2089.4,332 2083.7,334.3 2085.4,328 2084.8,322.9 2083.7,318.9 2080.3,315 2082.6,313.8 2089.4,312.7 2096.2,311.6 2100.7,310.4 2106.4,309.3 2112,308.2 2115.4,306.5 2116.6,301.9 2113.2,296.8 2123.4,290 2134.7,282.7 2141.5,277 2137.8,272.9 2133.3,268.4 2127.6,262.7 2124.2,257 2120.8,253.6 2119.7,249.7 2126.5,249.1 2128.7,244.6 2123.1,243.4 2118.5,241.2 2119.7,237.8 2117.4,233.2 2142.3,234.4 2141.2,241.7 2146.9,241.7 2148,236.6 2150.3,233.2 2152.6,234.4 2159.4,235.5 2159.9,232.1 2160.5,225.3 2161.1,218.5 2161.6,211.7 2163.9,207.1 2170.7,203.2 2174.1,202 2178.1,200.3 2177.5,193.5 2176.4,189" fill="#d96027"/>
<polyline points="2159.4,235.5 2168.4,234.9 2170.7,237.8 2173,243.4 2176.4,251.4 2178.1,262.7 2179.8,274.6" fill="none" stroke="#666" stroke-width="0.8" stroke-linejoin="round" stroke-linecap="round"/>
<polyline points="2141.2,276.9 2148,278.6 2154.8,279.7 2159.4,283.1 2161.1,286.5" fill="none" stroke="#666" stroke-width="0.8" stroke-linejoin="round" stroke-linecap="round"/>
<polygon points="2044,299.1 2046.3,298 2056.5,299.1 2061,300.8 2066.7,303.6 2068.4,301.9 2072.9,301.9 2076.9,305.3 2079.1,309.9 2080.3,315 2083.7,318.9 2084.8,322.9 2085.4,328 2083.7,334.3 2078,337.1 2072.3,340.5 2066.7,343.9 2061,347.3 2057.6,348.4 2054.2,343.9 2050.8,338.2 2048,331.4 2045.1,323.5 2044,316.7 2044,307.6" fill="#7570b3"/>
<polygon points="1975.6,388 1975,384.6 1977.9,382.3 1981.3,378.9 1981.8,372.1 1984.1,369.8 1990.3,370.4 1994.3,366.4 2003.9,364.7 2006.8,359.6 2009.6,353.9 2003.4,349.4 2006.2,344.9 2007.9,343.7 2001.7,337.5 2005.1,332.4 2010.7,324.5 2013,321.1 2019.8,320.5 2024.4,321.6 2043.6,321.6 2044.8,323.3 2047.6,331.3 2050.4,338.1 2053.8,343.7 2057.8,348.3 2055,350 2050.4,353.9 2046.5,358.5 2042.5,363 2039.1,368.7 2036.3,374.4 2034,380 2031.7,385.7 2030,391.4 2028.9,395.9 2029.5,401 2027.8,404.4 2024.4,406.1 2021,405 2018.7,402.1 2016.4,399.3 2013,397 2007.3,395.9 2001.7,395.9 1996,396.5 1990.3,397.6 1984.1,399.3 1982.4,397" fill="#d96027"/>
<polyline points="2009.6,353.9 2015.3,352.8 2020.4,355.1 2022.1,350.5 2026.6,351.1 2032.3,349.4 2035.7,353.9 2039.1,357.3 2043.1,360.7" fill="none" stroke="#666" stroke-width="0.8" stroke-linejoin="round" stroke-linecap="round"/>
<polyline points="2020.4,355.1 2021.5,360.7 2023.8,364.1 2024.9,371 2025.5,377.8" fill="none" stroke="#666" stroke-width="0.8" stroke-linejoin="round" stroke-linecap="round"/>
<polyline points="2174.1,158.4 2176.4,166.3 2178.6,173.1 2180.9,179.9 2183.2,186.7 2186,193.5 2188.8,200.3 2192.2,207.1 2195.6,213.9 2199,220.7 2201.9,227.6 2204.1,234.4 2205.3,241.2 2204.7,248 2203.6,254.8 2201.9,261.6 2200.7,268.4 2200.2,274 2198.5,278 2195.6,278.6 2193.4,276.3 2188.8,276.9 2184.3,278.6 2179.8,280.8 2175.2,283.7 2170.7,286.5 2167.3,289.3 2163.9,292.2 2161.1,295 2150,305.3 2146,309.9 2141.5,315.5 2137,321.2 2133.6,326.9 2130.7,332.6 2129,336 2125.6,337.1 2122.8,335.4 2120.5,330.3 2117.7,327.4 2112,326.3 2106.4,326.9 2100.7,328 2095,329.7 2089.4,332 2083.7,334.3 2081,334.1 2076.5,336.4 2070.8,339.2 2065.2,342.6 2059.5,346.6 2055,350 2050.4,353.9 2046.5,358.5 2042.5,363 2039.1,368.7 2036.3,374.4 2034,380 2031.7,385.7 2030,391.4 2028.9,395.9 2029.5,401 2027.8,404.4 2024.4,406.1 2021,405 2018.7,402.1 2016.4,399.3 2013,397 2007.3,395.9 2001.7,395.9 1996,396.5 1990.3,397.6 1984.1,399.3" fill="none" stroke="#1a1a1a" stroke-width="1.4" stroke-linejoin="round" stroke-linecap="round"/>
<polyline points="1984.1,399.3 1979,400.4 1973.3,402.7 1967.7,406.1 1962,410.6 1957.5,415.2 1951.8,422.5" fill="none" stroke="#000" stroke-width="2.4" stroke-linejoin="round" stroke-linecap="round"/>
<polyline points="1951.8,365.5 1975.6,388 1982.4,397" fill="none" stroke="#000" stroke-width="2.2" stroke-linejoin="round" stroke-linecap="round"/>
<polygon points="2188.8,213.9 2190.5,213.4 2193.4,218.5 2196.8,224.1 2200.2,231 2202.4,238.9 2203,245.7 2202.4,252.5 2200.7,259.3 2199.6,266.1 2199,272.9 2197.9,276.9 2195.1,277.4 2193.4,274.6 2188.8,275.2 2184.3,276.9 2179.8,279.1 2175.2,282 2170.7,284.8 2166.2,287.6 2161.6,291 2158.2,295 2153.7,295 2159.4,288.8 2165,284.2 2170.7,280.8 2177.5,276.9 2184.3,273.5 2191.1,270.6 2195.6,269.5 2196.8,263.8 2197.9,257 2199,250.2 2199.6,243.4 2198.5,236.6 2195.6,229.8 2192.8,224.1 2190.5,219.6" fill="#fff"/>
<polygon points="2112.6,320.6 2115.4,319.5 2118.8,321.8 2123.4,322.9 2126.8,323.5 2130.2,318.9 2134.7,313.3 2139.2,307.6 2144.9,301.9 2150,297.4 2155.1,292.9 2156.2,299.1 2150,304.8 2146,309.3 2141.5,315 2137,320.6 2133.6,326.3 2130.7,332 2129,335.4 2125.6,336.2 2123.4,334.8 2121.7,330.3 2118.8,326.9 2115.4,324" fill="#fff"/>
<polygon points="2182.6,206.6 2184.9,205.4 2186.6,208.3 2184.3,209.4" fill="#fff"/>
<polygon points="2171.3,183.3 2174.1,181.1 2177.5,184.5 2174.7,187.9" fill="#fff"/>
<polygon points="2068.9,336 2073.5,332.6 2079.1,328 2083.7,323.5 2086,325.2 2085.4,329.1 2080.3,330.9 2074.6,334.8 2070.1,338.2" fill="#fff"/>
<polygon points="2103,321.8 2106.4,321.2 2105.8,322.9 2103.5,323.3" fill="#fff"/>
<polygon points="2038.5,357.3 2043.6,351.1 2046.5,352.8 2041.9,359" fill="#fff"/>
<polygon points="2035.7,361.3 2038,360.2 2039.1,363 2036.6,363.9" fill="#fff"/>
<polygon points="2029.5,371 2031.7,367.6 2035.1,367 2033.4,372.1 2031.2,376.6" fill="#fff"/>
<polygon points="2024.4,378.9 2027.8,378.3 2028.3,381.7 2026.6,386.8 2025.5,391.4 2022.7,397 2019.8,391.4 2023.2,385.7 2024.9,382.3" fill="#fff"/>
<polygon points="1980.1,394.8 1983.5,394.2 1984.7,397 1981.3,397.6" fill="#fff"/>
<polygon points="2058.7,339.4 2063.3,337.7 2067.8,335.4 2068.4,337.7 2064.4,339.9 2059.9,342.2" fill="#000"/>
<ellipse cx="2169.6" cy="166.3" rx="3.6" ry="5.6" fill="#000"/>
<circle cx="2170.1" cy="165.2" r="1.3" fill="#fff"/>
<circle cx="2170.7" cy="170.3" r="1.4" fill="#fff"/>
</g>
<rect x="1958.9" y="166" width="156.6" height="5.9" fill="none" stroke="#000" stroke-width="1.6"/>
<rect x="1958.1" y="165.2" width="79.4" height="7.5" fill="#000"/>
<text x="2119.4" y="172.4" font-size="12.3" fill="#000">km</text>
<text x="1959.3" y="187.7" font-size="12.7" text-anchor="middle" fill="#000">0</text>
<text x="2037.5" y="187.7" font-size="12.7" text-anchor="middle" fill="#000">100</text>
<text x="2115.7" y="187.7" font-size="12.7" text-anchor="middle" fill="#000">200</text>
<rect x="1953.3" y="160.8" width="265.9" height="265.8" fill="none" stroke="#000" stroke-width="1.7" stroke-linejoin="round"/>
</g>
<g id="panels">
<rect x="29.8" y="442" width="265.4" height="29.2" fill="#fff" stroke="#000" stroke-width="1.7" stroke-linejoin="round"/>
<text x="162.5" y="463.9" font-size="20" text-anchor="middle" fill="#000">TX</text>
<line x1="29.1" y1="1188.7" x2="295.9" y2="1188.7" stroke="#000" stroke-width="1.5"/>
<line x1="152.38" y1="1189.2" x2="152.38" y2="1192.4" stroke="#1a1a1a" stroke-width="1.5"/>
<text x="152.38" y="1210.0" font-size="18.9" text-anchor="middle" fill="#4a4a4a">4</text>
<line x1="172.66" y1="1189.2" x2="172.66" y2="1192.4" stroke="#1a1a1a" stroke-width="1.5"/>
<text x="172.66" y="1210.0" font-size="18.9" text-anchor="middle" fill="#4a4a4a">3</text>
<line x1="192.94" y1="1189.2" x2="192.94" y2="1192.4" stroke="#1a1a1a" stroke-width="1.5"/>
<text x="192.94" y="1210.0" font-size="18.9" text-anchor="middle" fill="#4a4a4a">2</text>
<line x1="213.22" y1="1189.2" x2="213.22" y2="1192.4" stroke="#1a1a1a" stroke-width="1.5"/>
<text x="213.22" y="1210.0" font-size="18.9" text-anchor="middle" fill="#4a4a4a">1</text>
<line x1="233.5" y1="1189.2" x2="233.5" y2="1192.4" stroke="#1a1a1a" stroke-width="1.5"/>
<text x="233.5" y="1210.0" font-size="18.9" text-anchor="middle" fill="#4a4a4a">0</text>
<line x1="253.78" y1="1189.2" x2="253.78" y2="1192.4" stroke="#1a1a1a" stroke-width="1.5"/>
<text x="253.78" y="1210.0" font-size="18.9" text-anchor="middle" fill="#4a4a4a">1</text>
<line x1="274.06" y1="1189.2" x2="274.06" y2="1192.4" stroke="#1a1a1a" stroke-width="1.5"/>
<text x="274.06" y="1210.0" font-size="18.9" text-anchor="middle" fill="#4a4a4a">2</text>
<line x1="233.5" y1="471.9" x2="233.5" y2="1188.7" stroke="#000" stroke-width="2.8"/>
<rect x="304.49" y="442" width="265.4" height="29.2" fill="#fff" stroke="#000" stroke-width="1.7" stroke-linejoin="round"/>
<text x="437.19" y="463.9" font-size="20" text-anchor="middle" fill="#000">LA</text>
<line x1="303.79" y1="1188.7" x2="570.59" y2="1188.7" stroke="#000" stroke-width="1.5"/>
<line x1="427.07" y1="1189.2" x2="427.07" y2="1192.4" stroke="#1a1a1a" stroke-width="1.5"/>
<text x="427.07" y="1210.0" font-size="18.9" text-anchor="middle" fill="#4a4a4a">4</text>
<line x1="447.35" y1="1189.2" x2="447.35" y2="1192.4" stroke="#1a1a1a" stroke-width="1.5"/>
<text x="447.35" y="1210.0" font-size="18.9" text-anchor="middle" fill="#4a4a4a">3</text>
<line x1="467.63" y1="1189.2" x2="467.63" y2="1192.4" stroke="#1a1a1a" stroke-width="1.5"/>
<text x="467.63" y="1210.0" font-size="18.9" text-anchor="middle" fill="#4a4a4a">2</text>
<line x1="487.91" y1="1189.2" x2="487.91" y2="1192.4" stroke="#1a1a1a" stroke-width="1.5"/>
<text x="487.91" y="1210.0" font-size="18.9" text-anchor="middle" fill="#4a4a4a">1</text>
<line x1="508.19" y1="1189.2" x2="508.19" y2="1192.4" stroke="#1a1a1a" stroke-width="1.5"/>
<text x="508.19" y="1210.0" font-size="18.9" text-anchor="middle" fill="#4a4a4a">0</text>
<line x1="528.47" y1="1189.2" x2="528.47" y2="1192.4" stroke="#1a1a1a" stroke-width="1.5"/>
<text x="528.47" y="1210.0" font-size="18.9" text-anchor="middle" fill="#4a4a4a">1</text>
<line x1="548.75" y1="1189.2" x2="548.75" y2="1192.4" stroke="#1a1a1a" stroke-width="1.5"/>
<text x="548.75" y="1210.0" font-size="18.9" text-anchor="middle" fill="#4a4a4a">2</text>
<line x1="508.19" y1="471.9" x2="508.19" y2="1188.7" stroke="#000" stroke-width="2.8"/>
<rect x="579.18" y="442" width="265.4" height="29.2" fill="#fff" stroke="#000" stroke-width="1.7" stroke-linejoin="round"/>
<text x="711.88" y="463.9" font-size="20" text-anchor="middle" fill="#000">MS</text>
<line x1="578.48" y1="1188.7" x2="845.28" y2="1188.7" stroke="#000" stroke-width="1.5"/>
<line x1="701.76" y1="1189.2" x2="701.76" y2="1192.4" stroke="#1a1a1a" stroke-width="1.5"/>
<text x="701.76" y="1210.0" font-size="18.9" text-anchor="middle" fill="#4a4a4a">4</text>
<line x1="722.04" y1="1189.2" x2="722.04" y2="1192.4" stroke="#1a1a1a" stroke-width="1.5"/>
<text x="722.04" y="1210.0" font-size="18.9" text-anchor="middle" fill="#4a4a4a">3</text>
<line x1="742.32" y1="1189.2" x2="742.32" y2="1192.4" stroke="#1a1a1a" stroke-width="1.5"/>
<text x="742.32" y="1210.0" font-size="18.9" text-anchor="middle" fill="#4a4a4a">2</text>
<line x1="762.6" y1="1189.2" x2="762.6" y2="1192.4" stroke="#1a1a1a" stroke-width="1.5"/>
<text x="762.6" y="1210.0" font-size="18.9" text-anchor="middle" fill="#4a4a4a">1</text>
<line x1="782.88" y1="1189.2" x2="782.88" y2="1192.4" stroke="#1a1a1a" stroke-width="1.5"/>
<text x="782.88" y="1210.0" font-size="18.9" text-anchor="middle" fill="#4a4a4a">0</text>
<line x1="803.16" y1="1189.2" x2="803.16" y2="1192.4" stroke="#1a1a1a" stroke-width="1.5"/>
<text x="803.16" y="1210.0" font-size="18.9" text-anchor="middle" fill="#4a4a4a">1</text>
<line x1="823.44" y1="1189.2" x2="823.44" y2="1192.4" stroke="#1a1a1a" stroke-width="1.5"/>
<text x="823.44" y="1210.0" font-size="18.9" text-anchor="middle" fill="#4a4a4a">2</text>
<line x1="782.88" y1="471.9" x2="782.88" y2="1188.7" stroke="#000" stroke-width="2.8"/>
<rect x="853.87" y="442" width="265.4" height="29.2" fill="#fff" stroke="#000" stroke-width="1.7" stroke-linejoin="round"/>
<text x="986.57" y="463.9" font-size="20" text-anchor="middle" fill="#000">AL</text>
<line x1="853.17" y1="1188.7" x2="1119.97" y2="1188.7" stroke="#000" stroke-width="1.5"/>
<line x1="976.45" y1="1189.2" x2="976.45" y2="1192.4" stroke="#1a1a1a" stroke-width="1.5"/>
<text x="976.45" y="1210.0" font-size="18.9" text-anchor="middle" fill="#4a4a4a">4</text>
<line x1="996.73" y1="1189.2" x2="996.73" y2="1192.4" stroke="#1a1a1a" stroke-width="1.5"/>
<text x="996.73" y="1210.0" font-size="18.9" text-anchor="middle" fill="#4a4a4a">3</text>
<line x1="1017.01" y1="1189.2" x2="1017.01" y2="1192.4" stroke="#1a1a1a" stroke-width="1.5"/>
<text x="1017.01" y="1210.0" font-size="18.9" text-anchor="middle" fill="#4a4a4a">2</text>
<line x1="1037.29" y1="1189.2" x2="1037.29" y2="1192.4" stroke="#1a1a1a" stroke-width="1.5"/>
<text x="1037.29" y="1210.0" font-size="18.9" text-anchor="middle" fill="#4a4a4a">1</text>
<line x1="1057.57" y1="1189.2" x2="1057.57" y2="1192.4" stroke="#1a1a1a" stroke-width="1.5"/>
<text x="1057.57" y="1210.0" font-size="18.9" text-anchor="middle" fill="#4a4a4a">0</text>
<line x1="1077.85" y1="1189.2" x2="1077.85" y2="1192.4" stroke="#1a1a1a" stroke-width="1.5"/>
<text x="1077.85" y="1210.0" font-size="18.9" text-anchor="middle" fill="#4a4a4a">1</text>
<line x1="1098.13" y1="1189.2" x2="1098.13" y2="1192.4" stroke="#1a1a1a" stroke-width="1.5"/>
<text x="1098.13" y="1210.0" font-size="18.9" text-anchor="middle" fill="#4a4a4a">2</text>
<line x1="1057.57" y1="471.9" x2="1057.57" y2="1188.7" stroke="#000" stroke-width="2.8"/>
<rect x="1128.56" y="442" width="265.4" height="29.2" fill="#fff" stroke="#000" stroke-width="1.7" stroke-linejoin="round"/>
<text x="1261.26" y="463.9" font-size="20" text-anchor="middle" fill="#000">FL</text>
<line x1="1127.86" y1="1188.7" x2="1394.66" y2="1188.7" stroke="#000" stroke-width="1.5"/>
<line x1="1251.14" y1="1189.2" x2="1251.14" y2="1192.4" stroke="#1a1a1a" stroke-width="1.5"/>
<text x="1251.14" y="1210.0" font-size="18.9" text-anchor="middle" fill="#4a4a4a">4</text>
<line x1="1271.42" y1="1189.2" x2="1271.42" y2="1192.4" stroke="#1a1a1a" stroke-width="1.5"/>
<text x="1271.42" y="1210.0" font-size="18.9" text-anchor="middle" fill="#4a4a4a">3</text>
<line x1="1291.7" y1="1189.2" x2="1291.7" y2="1192.4" stroke="#1a1a1a" stroke-width="1.5"/>
<text x="1291.7" y="1210.0" font-size="18.9" text-anchor="middle" fill="#4a4a4a">2</text>
<line x1="1311.98" y1="1189.2" x2="1311.98" y2="1192.4" stroke="#1a1a1a" stroke-width="1.5"/>
<text x="1311.98" y="1210.0" font-size="18.9" text-anchor="middle" fill="#4a4a4a">1</text>
<line x1="1332.26" y1="1189.2" x2="1332.26" y2="1192.4" stroke="#1a1a1a" stroke-width="1.5"/>
<text x="1332.26" y="1210.0" font-size="18.9" text-anchor="middle" fill="#4a4a4a">0</text>
<line x1="1352.54" y1="1189.2" x2="1352.54" y2="1192.4" stroke="#1a1a1a" stroke-width="1.5"/>
<text x="1352.54" y="1210.0" font-size="18.9" text-anchor="middle" fill="#4a4a4a">1</text>
<line x1="1372.82" y1="1189.2" x2="1372.82" y2="1192.4" stroke="#1a1a1a" stroke-width="1.5"/>
<text x="1372.82" y="1210.0" font-size="18.9" text-anchor="middle" fill="#4a4a4a">2</text>
<line x1="1332.26" y1="471.9" x2="1332.26" y2="1188.7" stroke="#000" stroke-width="2.8"/>
<rect x="1403.25" y="442" width="265.4" height="29.2" fill="#fff" stroke="#000" stroke-width="1.7" stroke-linejoin="round"/>
<text x="1535.95" y="463.9" font-size="20" text-anchor="middle" fill="#000">GA</text>
<line x1="1402.55" y1="1188.7" x2="1669.35" y2="1188.7" stroke="#000" stroke-width="1.5"/>
<line x1="1525.83" y1="1189.2" x2="1525.83" y2="1192.4" stroke="#1a1a1a" stroke-width="1.5"/>
<text x="1525.83" y="1210.0" font-size="18.9" text-anchor="middle" fill="#4a4a4a">4</text>
<line x1="1546.11" y1="1189.2" x2="1546.11" y2="1192.4" stroke="#1a1a1a" stroke-width="1.5"/>
<text x="1546.11" y="1210.0" font-size="18.9" text-anchor="middle" fill="#4a4a4a">3</text>
<line x1="1566.39" y1="1189.2" x2="1566.39" y2="1192.4" stroke="#1a1a1a" stroke-width="1.5"/>
<text x="1566.39" y="1210.0" font-size="18.9" text-anchor="middle" fill="#4a4a4a">2</text>
<line x1="1586.67" y1="1189.2" x2="1586.67" y2="1192.4" stroke="#1a1a1a" stroke-width="1.5"/>
<text x="1586.67" y="1210.0" font-size="18.9" text-anchor="middle" fill="#4a4a4a">1</text>
<line x1="1606.95" y1="1189.2" x2="1606.95" y2="1192.4" stroke="#1a1a1a" stroke-width="1.5"/>
<text x="1606.95" y="1210.0" font-size="18.9" text-anchor="middle" fill="#4a4a4a">0</text>
<line x1="1627.23" y1="1189.2" x2="1627.23" y2="1192.4" stroke="#1a1a1a" stroke-width="1.5"/>
<text x="1627.23" y="1210.0" font-size="18.9" text-anchor="middle" fill="#4a4a4a">1</text>
<line x1="1647.51" y1="1189.2" x2="1647.51" y2="1192.4" stroke="#1a1a1a" stroke-width="1.5"/>
<text x="1647.51" y="1210.0" font-size="18.9" text-anchor="middle" fill="#4a4a4a">2</text>
<line x1="1606.95" y1="471.9" x2="1606.95" y2="1188.7" stroke="#000" stroke-width="2.8"/>
<rect x="1677.94" y="442" width="265.4" height="29.2" fill="#fff" stroke="#000" stroke-width="1.7" stroke-linejoin="round"/>
<text x="1810.64" y="463.9" font-size="20" text-anchor="middle" fill="#000">SC</text>
<line x1="1677.24" y1="1188.7" x2="1944.04" y2="1188.7" stroke="#000" stroke-width="1.5"/>
<line x1="1800.52" y1="1189.2" x2="1800.52" y2="1192.4" stroke="#1a1a1a" stroke-width="1.5"/>
<text x="1800.52" y="1210.0" font-size="18.9" text-anchor="middle" fill="#4a4a4a">4</text>
<line x1="1820.8" y1="1189.2" x2="1820.8" y2="1192.4" stroke="#1a1a1a" stroke-width="1.5"/>
<text x="1820.8" y="1210.0" font-size="18.9" text-anchor="middle" fill="#4a4a4a">3</text>
<line x1="1841.08" y1="1189.2" x2="1841.08" y2="1192.4" stroke="#1a1a1a" stroke-width="1.5"/>
<text x="1841.08" y="1210.0" font-size="18.9" text-anchor="middle" fill="#4a4a4a">2</text>
<line x1="1861.36" y1="1189.2" x2="1861.36" y2="1192.4" stroke="#1a1a1a" stroke-width="1.5"/>
<text x="1861.36" y="1210.0" font-size="18.9" text-anchor="middle" fill="#4a4a4a">1</text>
<line x1="1881.64" y1="1189.2" x2="1881.64" y2="1192.4" stroke="#1a1a1a" stroke-width="1.5"/>
<text x="1881.64" y="1210.0" font-size="18.9" text-anchor="middle" fill="#4a4a4a">0</text>
<line x1="1901.92" y1="1189.2" x2="1901.92" y2="1192.4" stroke="#1a1a1a" stroke-width="1.5"/>
<text x="1901.92" y="1210.0" font-size="18.9" text-anchor="middle" fill="#4a4a4a">1</text>
<line x1="1922.2" y1="1189.2" x2="1922.2" y2="1192.4" stroke="#1a1a1a" stroke-width="1.5"/>
<text x="1922.2" y="1210.0" font-size="18.9" text-anchor="middle" fill="#4a4a4a">2</text>
<line x1="1881.64" y1="471.9" x2="1881.64" y2="1188.7" stroke="#000" stroke-width="2.8"/>
<rect x="1952.63" y="442" width="265.4" height="29.2" fill="#fff" stroke="#000" stroke-width="1.7" stroke-linejoin="round"/>
<text x="2085.33" y="463.9" font-size="20" text-anchor="middle" fill="#000">NC</text>
<line x1="1951.93" y1="1188.7" x2="2218.73" y2="1188.7" stroke="#000" stroke-width="1.5"/>
<line x1="2075.21" y1="1189.2" x2="2075.21" y2="1192.4" stroke="#1a1a1a" stroke-width="1.5"/>
<text x="2075.21" y="1210.0" font-size="18.9" text-anchor="middle" fill="#4a4a4a">4</text>
<line x1="2095.49" y1="1189.2" x2="2095.49" y2="1192.4" stroke="#1a1a1a" stroke-width="1.5"/>
<text x="2095.49" y="1210.0" font-size="18.9" text-anchor="middle" fill="#4a4a4a">3</text>
<line x1="2115.77" y1="1189.2" x2="2115.77" y2="1192.4" stroke="#1a1a1a" stroke-width="1.5"/>
<text x="2115.77" y="1210.0" font-size="18.9" text-anchor="middle" fill="#4a4a4a">2</text>
<line x1="2136.05" y1="1189.2" x2="2136.05" y2="1192.4" stroke="#1a1a1a" stroke-width="1.5"/>
<text x="2136.05" y="1210.0" font-size="18.9" text-anchor="middle" fill="#4a4a4a">1</text>
<line x1="2156.33" y1="1189.2" x2="2156.33" y2="1192.4" stroke="#1a1a1a" stroke-width="1.5"/>
<text x="2156.33" y="1210.0" font-size="18.9" text-anchor="middle" fill="#4a4a4a">0</text>
<line x1="2176.61" y1="1189.2" x2="2176.61" y2="1192.4" stroke="#1a1a1a" stroke-width="1.5"/>
<text x="2176.61" y="1210.0" font-size="18.9" text-anchor="middle" fill="#4a4a4a">1</text>
<line x1="2196.89" y1="1189.2" x2="2196.89" y2="1192.4" stroke="#1a1a1a" stroke-width="1.5"/>
<text x="2196.89" y="1210.0" font-size="18.9" text-anchor="middle" fill="#4a4a4a">2</text>
<line x1="2156.33" y1="471.9" x2="2156.33" y2="1188.7" stroke="#000" stroke-width="2.8"/>
<line x1="29.2" y1="471.2" x2="29.2" y2="1189.4" stroke="#000" stroke-width="1.9"/>
<line x1="25.2" y1="477.6" x2="28.4" y2="477.6" stroke="#000" stroke-width="1.4"/>
<line x1="25.2" y1="486.89" x2="28.4" y2="486.89" stroke="#000" stroke-width="1.4"/>
<line x1="25.2" y1="496.17" x2="28.4" y2="496.17" stroke="#000" stroke-width="1.4"/>
<line x1="25.2" y1="505.46" x2="28.4" y2="505.46" stroke="#000" stroke-width="1.4"/>
<line x1="25.2" y1="514.74" x2="28.4" y2="514.74" stroke="#000" stroke-width="1.4"/>
<line x1="25.2" y1="524.03" x2="28.4" y2="524.03" stroke="#000" stroke-width="1.4"/>
<line x1="25.2" y1="533.31" x2="28.4" y2="533.31" stroke="#000" stroke-width="1.4"/>
<line x1="25.2" y1="542.6" x2="28.4" y2="542.6" stroke="#000" stroke-width="1.4"/>
<line x1="25.2" y1="551.88" x2="28.4" y2="551.88" stroke="#000" stroke-width="1.4"/>
<line x1="25.2" y1="561.17" x2="28.4" y2="561.17" stroke="#000" stroke-width="1.4"/>
<line x1="25.2" y1="570.45" x2="28.4" y2="570.45" stroke="#000" stroke-width="1.4"/>
<line x1="25.2" y1="579.74" x2="28.4" y2="579.74" stroke="#000" stroke-width="1.4"/>
<line x1="25.2" y1="589.02" x2="28.4" y2="589.02" stroke="#000" stroke-width="1.4"/>
<line x1="25.2" y1="598.31" x2="28.4" y2="598.31" stroke="#000" stroke-width="1.4"/>
<line x1="25.2" y1="607.59" x2="28.4" y2="607.59" stroke="#000" stroke-width="1.4"/>
<line x1="25.2" y1="616.88" x2="28.4" y2="616.88" stroke="#000" stroke-width="1.4"/>
<line x1="25.2" y1="626.16" x2="28.4" y2="626.16" stroke="#000" stroke-width="1.4"/>
<line x1="25.2" y1="635.45" x2="28.4" y2="635.45" stroke="#000" stroke-width="1.4"/>
<line x1="25.2" y1="644.74" x2="28.4" y2="644.74" stroke="#000" stroke-width="1.4"/>
<line x1="25.2" y1="654.02" x2="28.4" y2="654.02" stroke="#000" stroke-width="1.4"/>
<line x1="25.2" y1="663.31" x2="28.4" y2="663.31" stroke="#000" stroke-width="1.4"/>
<line x1="25.2" y1="672.59" x2="28.4" y2="672.59" stroke="#000" stroke-width="1.4"/>
<line x1="25.2" y1="681.88" x2="28.4" y2="681.88" stroke="#000" stroke-width="1.4"/>
<line x1="25.2" y1="691.16" x2="28.4" y2="691.16" stroke="#000" stroke-width="1.4"/>
<line x1="25.2" y1="700.45" x2="28.4" y2="700.45" stroke="#000" stroke-width="1.4"/>
<line x1="25.2" y1="709.73" x2="28.4" y2="709.73" stroke="#000" stroke-width="1.4"/>
<line x1="25.2" y1="719.02" x2="28.4" y2="719.02" stroke="#000" stroke-width="1.4"/>
<line x1="25.2" y1="728.3" x2="28.4" y2="728.3" stroke="#000" stroke-width="1.4"/>
<line x1="25.2" y1="737.59" x2="28.4" y2="737.59" stroke="#000" stroke-width="1.4"/>
<line x1="25.2" y1="746.87" x2="28.4" y2="746.87" stroke="#000" stroke-width="1.4"/>
<line x1="25.2" y1="756.16" x2="28.4" y2="756.16" stroke="#000" stroke-width="1.4"/>
<line x1="25.2" y1="765.44" x2="28.4" y2="765.44" stroke="#000" stroke-width="1.4"/>
<line x1="25.2" y1="774.73" x2="28.4" y2="774.73" stroke="#000" stroke-width="1.4"/>
<line x1="25.2" y1="784.01" x2="28.4" y2="784.01" stroke="#000" stroke-width="1.4"/>
<line x1="25.2" y1="793.3" x2="28.4" y2="793.3" stroke="#000" stroke-width="1.4"/>
<line x1="25.2" y1="802.59" x2="28.4" y2="802.59" stroke="#000" stroke-width="1.4"/>
<line x1="25.2" y1="811.87" x2="28.4" y2="811.87" stroke="#000" stroke-width="1.4"/>
<line x1="25.2" y1="821.16" x2="28.4" y2="821.16" stroke="#000" stroke-width="1.4"/>
<line x1="25.2" y1="830.44" x2="28.4" y2="830.44" stroke="#000" stroke-width="1.4"/>
<line x1="25.2" y1="839.73" x2="28.4" y2="839.73" stroke="#000" stroke-width="1.4"/>
<line x1="25.2" y1="849.01" x2="28.4" y2="849.01" stroke="#000" stroke-width="1.4"/>
<line x1="25.2" y1="858.3" x2="28.4" y2="858.3" stroke="#000" stroke-width="1.4"/>
<line x1="25.2" y1="867.58" x2="28.4" y2="867.58" stroke="#000" stroke-width="1.4"/>
<line x1="25.2" y1="876.87" x2="28.4" y2="876.87" stroke="#000" stroke-width="1.4"/>
<line x1="25.2" y1="886.15" x2="28.4" y2="886.15" stroke="#000" stroke-width="1.4"/>
<line x1="25.2" y1="895.44" x2="28.4" y2="895.44" stroke="#000" stroke-width="1.4"/>
<line x1="25.2" y1="904.72" x2="28.4" y2="904.72" stroke="#000" stroke-width="1.4"/>
<line x1="25.2" y1="914.01" x2="28.4" y2="914.01" stroke="#000" stroke-width="1.4"/>
<line x1="25.2" y1="923.29" x2="28.4" y2="923.29" stroke="#000" stroke-width="1.4"/>
<line x1="25.2" y1="932.58" x2="28.4" y2="932.58" stroke="#000" stroke-width="1.4"/>
<line x1="25.2" y1="941.87" x2="28.4" y2="941.87" stroke="#000" stroke-width="1.4"/>
<line x1="25.2" y1="951.15" x2="28.4" y2="951.15" stroke="#000" stroke-width="1.4"/>
<line x1="25.2" y1="960.44" x2="28.4" y2="960.44" stroke="#000" stroke-width="1.4"/>
<line x1="25.2" y1="969.72" x2="28.4" y2="969.72" stroke="#000" stroke-width="1.4"/>
<line x1="25.2" y1="979.01" x2="28.4" y2="979.01" stroke="#000" stroke-width="1.4"/>
<line x1="25.2" y1="988.29" x2="28.4" y2="988.29" stroke="#000" stroke-width="1.4"/>
<line x1="25.2" y1="997.58" x2="28.4" y2="997.58" stroke="#000" stroke-width="1.4"/>
<line x1="25.2" y1="1006.86" x2="28.4" y2="1006.86" stroke="#000" stroke-width="1.4"/>
<line x1="25.2" y1="1016.15" x2="28.4" y2="1016.15" stroke="#000" stroke-width="1.4"/>
<line x1="25.2" y1="1025.43" x2="28.4" y2="1025.43" stroke="#000" stroke-width="1.4"/>
<line x1="25.2" y1="1034.72" x2="28.4" y2="1034.72" stroke="#000" stroke-width="1.4"/>
<line x1="25.2" y1="1044" x2="28.4" y2="1044" stroke="#000" stroke-width="1.4"/>
<line x1="25.2" y1="1053.29" x2="28.4" y2="1053.29" stroke="#000" stroke-width="1.4"/>
<line x1="25.2" y1="1062.57" x2="28.4" y2="1062.57" stroke="#000" stroke-width="1.4"/>
<line x1="25.2" y1="1071.86" x2="28.4" y2="1071.86" stroke="#000" stroke-width="1.4"/>
<line x1="25.2" y1="1081.14" x2="28.4" y2="1081.14" stroke="#000" stroke-width="1.4"/>
<line x1="25.2" y1="1090.43" x2="28.4" y2="1090.43" stroke="#000" stroke-width="1.4"/>
<line x1="25.2" y1="1099.72" x2="28.4" y2="1099.72" stroke="#000" stroke-width="1.4"/>
<line x1="25.2" y1="1109" x2="28.4" y2="1109" stroke="#000" stroke-width="1.4"/>
<line x1="25.2" y1="1118.29" x2="28.4" y2="1118.29" stroke="#000" stroke-width="1.4"/>
<line x1="25.2" y1="1127.57" x2="28.4" y2="1127.57" stroke="#000" stroke-width="1.4"/>
<line x1="25.2" y1="1136.86" x2="28.4" y2="1136.86" stroke="#000" stroke-width="1.4"/>
<line x1="25.2" y1="1146.14" x2="28.4" y2="1146.14" stroke="#000" stroke-width="1.4"/>
<line x1="25.2" y1="1155.43" x2="28.4" y2="1155.43" stroke="#000" stroke-width="1.4"/>
<line x1="25.2" y1="1164.71" x2="28.4" y2="1164.71" stroke="#000" stroke-width="1.4"/>
<line x1="25.2" y1="1174" x2="28.4" y2="1174" stroke="#000" stroke-width="1.4"/>
<line x1="25.2" y1="1183.28" x2="28.4" y2="1183.28" stroke="#000" stroke-width="1.4"/>
</g>
<g id="lollipops">
<line x1="196.3" y1="709.73" x2="234.1" y2="709.73" stroke="#d96027" stroke-width="6.4"/>
<circle cx="196.3" cy="709.73" r="5.4" fill="#d96027"/>
<circle cx="234.1" cy="709.73" r="5.4" fill="#d96027"/>
<line x1="209.4" y1="830.44" x2="233.6" y2="830.44" stroke="#d96027" stroke-width="6.4"/>
<circle cx="209.4" cy="830.44" r="5.4" fill="#d96027"/>
<circle cx="233.6" cy="830.44" r="5.4" fill="#d96027"/>
<line x1="219.5" y1="895.44" x2="235.1" y2="895.44" stroke="#d96027" stroke-width="6.4"/>
<circle cx="219.5" cy="895.44" r="5.4" fill="#d96027"/>
<circle cx="235.1" cy="895.44" r="5.4" fill="#d96027"/>
<line x1="225.8" y1="951.15" x2="233.6" y2="951.15" stroke="#1b9e77" stroke-width="6.4"/>
<circle cx="225.8" cy="951.15" r="5.4" fill="#1b9e77"/>
<circle cx="233.6" cy="951.15" r="5.4" fill="#1b9e77"/>
<line x1="225.8" y1="960.44" x2="233.6" y2="960.44" stroke="#1b9e77" stroke-width="6.4"/>
<circle cx="225.8" cy="960.44" r="5.4" fill="#1b9e77"/>
<circle cx="233.6" cy="960.44" r="5.4" fill="#1b9e77"/>
<line x1="227.6" y1="979.01" x2="233.6" y2="979.01" stroke="#1b9e77" stroke-width="6.4"/>
<circle cx="227.6" cy="979.01" r="5.4" fill="#1b9e77"/>
<circle cx="233.6" cy="979.01" r="5.4" fill="#1b9e77"/>
<line x1="227.6" y1="988.29" x2="233.6" y2="988.29" stroke="#1b9e77" stroke-width="6.4"/>
<circle cx="227.6" cy="988.29" r="5.4" fill="#1b9e77"/>
<circle cx="233.6" cy="988.29" r="5.4" fill="#1b9e77"/>
<line x1="231.9" y1="1006.86" x2="232.9" y2="1006.86" stroke="#1b9e77" stroke-width="6.4"/>
<circle cx="231.9" cy="1006.86" r="5.4" fill="#1b9e77"/>
<circle cx="232.9" cy="1006.86" r="5.4" fill="#1b9e77"/>
<line x1="232.1" y1="1053.29" x2="233.1" y2="1053.29" stroke="#1b9e77" stroke-width="6.4"/>
<circle cx="232.1" cy="1053.29" r="5.4" fill="#1b9e77"/>
<circle cx="233.1" cy="1053.29" r="5.4" fill="#1b9e77"/>
<line x1="232.9" y1="1146.14" x2="233.9" y2="1146.14" stroke="#1b9e77" stroke-width="6.4"/>
<circle cx="232.9" cy="1146.14" r="5.4" fill="#1b9e77"/>
<circle cx="233.9" cy="1146.14" r="5.4" fill="#1b9e77"/>
<line x1="232.9" y1="1155.43" x2="233.9" y2="1155.43" stroke="#1b9e77" stroke-width="6.4"/>
<circle cx="232.9" cy="1155.43" r="5.4" fill="#1b9e77"/>
<circle cx="233.9" cy="1155.43" r="5.4" fill="#1b9e77"/>
<line x1="232.9" y1="1164.71" x2="233.9" y2="1164.71" stroke="#1b9e77" stroke-width="6.4"/>
<circle cx="232.9" cy="1164.71" r="5.4" fill="#1b9e77"/>
<circle cx="233.9" cy="1164.71" r="5.4" fill="#1b9e77"/>
<line x1="473.5" y1="746.87" x2="509.6" y2="746.87" stroke="#d96027" stroke-width="6.4"/>
<circle cx="473.5" cy="746.87" r="5.4" fill="#d96027"/>
<circle cx="509.6" cy="746.87" r="5.4" fill="#d96027"/>
<line x1="506.6" y1="1025.43" x2="507.6" y2="1025.43" stroke="#1b9e77" stroke-width="6.4"/>
<circle cx="506.6" cy="1025.43" r="5.4" fill="#1b9e77"/>
<circle cx="507.6" cy="1025.43" r="5.4" fill="#1b9e77"/>
<line x1="506.6" y1="1034.72" x2="507.6" y2="1034.72" stroke="#1b9e77" stroke-width="6.4"/>
<circle cx="506.6" cy="1034.72" r="5.4" fill="#1b9e77"/>
<circle cx="507.6" cy="1034.72" r="5.4" fill="#1b9e77"/>
<line x1="506.6" y1="1081.14" x2="507.6" y2="1081.14" stroke="#1b9e77" stroke-width="6.4"/>
<circle cx="506.6" cy="1081.14" r="5.4" fill="#1b9e77"/>
<circle cx="507.6" cy="1081.14" r="5.4" fill="#1b9e77"/>
<line x1="506.6" y1="1090.43" x2="507.6" y2="1090.43" stroke="#1b9e77" stroke-width="6.4"/>
<circle cx="506.6" cy="1090.43" r="5.4" fill="#1b9e77"/>
<circle cx="507.6" cy="1090.43" r="5.4" fill="#1b9e77"/>
<line x1="506.6" y1="1109" x2="507.6" y2="1109" stroke="#1b9e77" stroke-width="6.4"/>
<circle cx="506.6" cy="1109" r="5.4" fill="#1b9e77"/>
<circle cx="507.6" cy="1109" r="5.4" fill="#1b9e77"/>
<line x1="506.6" y1="1118.29" x2="507.6" y2="1118.29" stroke="#1b9e77" stroke-width="6.4"/>
<circle cx="506.6" cy="1118.29" r="5.4" fill="#1b9e77"/>
<circle cx="507.6" cy="1118.29" r="5.4" fill="#1b9e77"/>
<line x1="506.6" y1="1127.57" x2="507.6" y2="1127.57" stroke="#1b9e77" stroke-width="6.4"/>
<circle cx="506.6" cy="1127.57" r="5.4" fill="#1b9e77"/>
<circle cx="507.6" cy="1127.57" r="5.4" fill="#1b9e77"/>
<line x1="506.6" y1="1136.86" x2="507.6" y2="1136.86" stroke="#1b9e77" stroke-width="6.4"/>
<circle cx="506.6" cy="1136.86" r="5.4" fill="#1b9e77"/>
<circle cx="507.6" cy="1136.86" r="5.4" fill="#1b9e77"/>
<line x1="740.9" y1="672.59" x2="783" y2="672.59" stroke="#d96027" stroke-width="6.4"/>
<circle cx="740.9" cy="672.59" r="5.4" fill="#d96027"/>
<circle cx="783" cy="672.59" r="5.4" fill="#d96027"/>
<line x1="755" y1="802.59" x2="783" y2="802.59" stroke="#d96027" stroke-width="6.4"/>
<circle cx="755" cy="802.59" r="5.4" fill="#d96027"/>
<circle cx="783" cy="802.59" r="5.4" fill="#d96027"/>
<line x1="766.1" y1="886.15" x2="783" y2="886.15" stroke="#d96027" stroke-width="6.4"/>
<circle cx="766.1" cy="886.15" r="5.4" fill="#d96027"/>
<circle cx="783" cy="886.15" r="5.4" fill="#d96027"/>
<line x1="1035" y1="839.73" x2="1062" y2="839.73" stroke="#7570b3" stroke-width="6.4"/>
<circle cx="1035" cy="839.73" r="5.4" fill="#7570b3"/>
<circle cx="1062" cy="839.73" r="5.4" fill="#7570b3"/>
<line x1="1043.9" y1="904.72" x2="1059" y2="904.72" stroke="#d96027" stroke-width="6.4"/>
<circle cx="1043.9" cy="904.72" r="5.4" fill="#d96027"/>
<circle cx="1059" cy="904.72" r="5.4" fill="#d96027"/>
<line x1="1243.1" y1="477.6" x2="1335.3" y2="477.6" stroke="#d96027" stroke-width="6.4"/>
<circle cx="1243.1" cy="477.6" r="5.4" fill="#d96027"/>
<circle cx="1335.3" cy="477.6" r="5.4" fill="#d96027"/>
<line x1="1243.1" y1="486.89" x2="1334.7" y2="486.89" stroke="#d96027" stroke-width="6.4"/>
<circle cx="1243.1" cy="486.89" r="5.4" fill="#d96027"/>
<circle cx="1334.7" cy="486.89" r="5.4" fill="#d96027"/>
<line x1="1247.8" y1="496.17" x2="1340.4" y2="496.17" stroke="#7570b3" stroke-width="6.4"/>
<circle cx="1247.8" cy="496.17" r="5.4" fill="#7570b3"/>
<circle cx="1340.4" cy="496.17" r="5.4" fill="#7570b3"/>
<line x1="1253.6" y1="505.46" x2="1336.6" y2="505.46" stroke="#d96027" stroke-width="6.4"/>
<circle cx="1253.6" cy="505.46" r="5.4" fill="#d96027"/>
<circle cx="1336.6" cy="505.46" r="5.4" fill="#d96027"/>
<line x1="1264" y1="514.74" x2="1333.4" y2="514.74" stroke="#d96027" stroke-width="6.4"/>
<circle cx="1264" cy="514.74" r="5.4" fill="#d96027"/>
<circle cx="1333.4" cy="514.74" r="5.4" fill="#d96027"/>
<line x1="1266.5" y1="533.31" x2="1334" y2="533.31" stroke="#d96027" stroke-width="6.4"/>
<circle cx="1266.5" cy="533.31" r="5.4" fill="#d96027"/>
<circle cx="1334" cy="533.31" r="5.4" fill="#d96027"/>
<line x1="1276" y1="551.88" x2="1333" y2="551.88" stroke="#d96027" stroke-width="6.4"/>
<circle cx="1276" cy="551.88" r="5.4" fill="#d96027"/>
<circle cx="1333" cy="551.88" r="5.4" fill="#d96027"/>
<line x1="1277.2" y1="570.45" x2="1333.4" y2="570.45" stroke="#d96027" stroke-width="6.4"/>
<circle cx="1277.2" cy="570.45" r="5.4" fill="#d96027"/>
<circle cx="1333.4" cy="570.45" r="5.4" fill="#d96027"/>
<line x1="1280.1" y1="589.02" x2="1333.4" y2="589.02" stroke="#d96027" stroke-width="6.4"/>
<circle cx="1280.1" cy="589.02" r="5.4" fill="#d96027"/>
<circle cx="1333.4" cy="589.02" r="5.4" fill="#d96027"/>
<line x1="1285.4" y1="607.59" x2="1342" y2="607.59" stroke="#7570b3" stroke-width="6.4"/>
<circle cx="1285.4" cy="607.59" r="5.4" fill="#7570b3"/>
<circle cx="1342" cy="607.59" r="5.4" fill="#7570b3"/>
<line x1="1286.4" y1="616.88" x2="1374.5" y2="616.88" stroke="#7570b3" stroke-width="6.4"/>
<circle cx="1286.4" cy="616.88" r="5.4" fill="#7570b3"/>
<circle cx="1374.5" cy="616.88" r="5.4" fill="#7570b3"/>
<line x1="1287.3" y1="626.16" x2="1335.3" y2="626.16" stroke="#d96027" stroke-width="6.4"/>
<circle cx="1287.3" cy="626.16" r="5.4" fill="#d96027"/>
<circle cx="1335.3" cy="626.16" r="5.4" fill="#d96027"/>
<line x1="1288" y1="635.45" x2="1334.1" y2="635.45" stroke="#d96027" stroke-width="6.4"/>
<circle cx="1288" cy="635.45" r="5.4" fill="#d96027"/>
<circle cx="1334.1" cy="635.45" r="5.4" fill="#d96027"/>
<line x1="1288.6" y1="654.02" x2="1333.4" y2="654.02" stroke="#d96027" stroke-width="6.4"/>
<circle cx="1288.6" cy="654.02" r="5.4" fill="#d96027"/>
<circle cx="1333.4" cy="654.02" r="5.4" fill="#d96027"/>
<line x1="1289.2" y1="663.31" x2="1333.4" y2="663.31" stroke="#d96027" stroke-width="6.4"/>
<circle cx="1289.2" cy="663.31" r="5.4" fill="#d96027"/>
<circle cx="1333.4" cy="663.31" r="5.4" fill="#d96027"/>
<line x1="1292.4" y1="681.88" x2="1336" y2="681.88" stroke="#d96027" stroke-width="6.4"/>
<circle cx="1292.4" cy="681.88" r="5.4" fill="#d96027"/>
<circle cx="1336" cy="681.88" r="5.4" fill="#d96027"/>
<line x1="1293.7" y1="691.16" x2="1334.1" y2="691.16" stroke="#d96027" stroke-width="6.4"/>
<circle cx="1293.7" cy="691.16" r="5.4" fill="#d96027"/>
<circle cx="1334.1" cy="691.16" r="5.4" fill="#d96027"/>
<line x1="1294.3" y1="700.45" x2="1334.1" y2="700.45" stroke="#d96027" stroke-width="6.4"/>
<circle cx="1294.3" cy="700.45" r="5.4" fill="#d96027"/>
<circle cx="1334.1" cy="700.45" r="5.4" fill="#d96027"/>
<line x1="1295.8" y1="719.02" x2="1334.7" y2="719.02" stroke="#d96027" stroke-width="6.4"/>
<circle cx="1295.8" cy="719.02" r="5.4" fill="#d96027"/>
<circle cx="1334.7" cy="719.02" r="5.4" fill="#d96027"/>
<line x1="1296.8" y1="728.3" x2="1348" y2="728.3" stroke="#7570b3" stroke-width="6.4"/>
<circle cx="1296.8" cy="728.3" r="5.4" fill="#7570b3"/>
<circle cx="1348" cy="728.3" r="5.4" fill="#7570b3"/>
<line x1="1296.8" y1="737.59" x2="1333.4" y2="737.59" stroke="#d96027" stroke-width="6.4"/>
<circle cx="1296.8" cy="737.59" r="5.4" fill="#d96027"/>
<circle cx="1333.4" cy="737.59" r="5.4" fill="#d96027"/>
<line x1="1297.8" y1="756.16" x2="1340.4" y2="756.16" stroke="#7570b3" stroke-width="6.4"/>
<circle cx="1297.8" cy="756.16" r="5.4" fill="#7570b3"/>
<circle cx="1340.4" cy="756.16" r="5.4" fill="#7570b3"/>
<line x1="1299.3" y1="765.44" x2="1333.4" y2="765.44" stroke="#d96027" stroke-width="6.4"/>
<circle cx="1299.3" cy="765.44" r="5.4" fill="#d96027"/>
<circle cx="1333.4" cy="765.44" r="5.4" fill="#d96027"/>
<line x1="1303.4" y1="784.01" x2="1346.7" y2="784.01" stroke="#7570b3" stroke-width="6.4"/>
<circle cx="1303.4" cy="784.01" r="5.4" fill="#7570b3"/>
<circle cx="1346.7" cy="784.01" r="5.4" fill="#7570b3"/>
<line x1="1303.8" y1="793.3" x2="1333.4" y2="793.3" stroke="#d96027" stroke-width="6.4"/>
<circle cx="1303.8" cy="793.3" r="5.4" fill="#d96027"/>
<circle cx="1333.4" cy="793.3" r="5.4" fill="#d96027"/>
<line x1="1315.1" y1="876.87" x2="1333.4" y2="876.87" stroke="#d96027" stroke-width="6.4"/>
<circle cx="1315.1" cy="876.87" r="5.4" fill="#d96027"/>
<circle cx="1333.4" cy="876.87" r="5.4" fill="#d96027"/>
<line x1="1323.2" y1="941.87" x2="1342.3" y2="941.87" stroke="#7570b3" stroke-width="6.4"/>
<circle cx="1323.2" cy="941.87" r="5.4" fill="#7570b3"/>
<circle cx="1342.3" cy="941.87" r="5.4" fill="#7570b3"/>
<line x1="1326.2" y1="969.72" x2="1334.8" y2="969.72" stroke="#7570b3" stroke-width="6.4"/>
<circle cx="1326.2" cy="969.72" r="5.4" fill="#7570b3"/>
<circle cx="1334.8" cy="969.72" r="5.4" fill="#7570b3"/>
<line x1="1329.7" y1="997.58" x2="1332" y2="997.58" stroke="#1b9e77" stroke-width="6.4"/>
<circle cx="1329.7" cy="997.58" r="5.4" fill="#1b9e77"/>
<circle cx="1332" cy="997.58" r="5.4" fill="#1b9e77"/>
<line x1="1331" y1="1044" x2="1332" y2="1044" stroke="#1b9e77" stroke-width="6.4"/>
<circle cx="1331" cy="1044" r="5.4" fill="#1b9e77"/>
<circle cx="1332" cy="1044" r="5.4" fill="#1b9e77"/>
<line x1="1331" y1="1071.86" x2="1332" y2="1071.86" stroke="#1b9e77" stroke-width="6.4"/>
<circle cx="1331" cy="1071.86" r="5.4" fill="#1b9e77"/>
<circle cx="1332" cy="1071.86" r="5.4" fill="#1b9e77"/>
<line x1="1579.9" y1="821.16" x2="1607.4" y2="821.16" stroke="#d96027" stroke-width="6.4"/>
<circle cx="1579.9" cy="821.16" r="5.4" fill="#d96027"/>
<circle cx="1607.4" cy="821.16" r="5.4" fill="#d96027"/>
<line x1="1588" y1="849.01" x2="1607.4" y2="849.01" stroke="#d96027" stroke-width="6.4"/>
<circle cx="1588" cy="849.01" r="5.4" fill="#d96027"/>
<circle cx="1607.4" cy="849.01" r="5.4" fill="#d96027"/>
<line x1="1605.1" y1="1016.15" x2="1606.1" y2="1016.15" stroke="#1b9e77" stroke-width="6.4"/>
<circle cx="1605.1" cy="1016.15" r="5.4" fill="#1b9e77"/>
<circle cx="1606.1" cy="1016.15" r="5.4" fill="#1b9e77"/>
<line x1="1605.3" y1="1062.57" x2="1606.3" y2="1062.57" stroke="#1b9e77" stroke-width="6.4"/>
<circle cx="1605.3" cy="1062.57" r="5.4" fill="#1b9e77"/>
<circle cx="1606.3" cy="1062.57" r="5.4" fill="#1b9e77"/>
<line x1="1605.3" y1="1099.72" x2="1606.3" y2="1099.72" stroke="#1b9e77" stroke-width="6.4"/>
<circle cx="1605.3" cy="1099.72" r="5.4" fill="#1b9e77"/>
<circle cx="1606.3" cy="1099.72" r="5.4" fill="#1b9e77"/>
<line x1="1605.3" y1="1183.28" x2="1606.3" y2="1183.28" stroke="#1b9e77" stroke-width="6.4"/>
<circle cx="1605.3" cy="1183.28" r="5.4" fill="#1b9e77"/>
<circle cx="1606.3" cy="1183.28" r="5.4" fill="#1b9e77"/>
<line x1="1828.5" y1="579.74" x2="1881.5" y2="579.74" stroke="#d96027" stroke-width="6.4"/>
<circle cx="1828.5" cy="579.74" r="5.4" fill="#d96027"/>
<circle cx="1881.5" cy="579.74" r="5.4" fill="#d96027"/>
<line x1="1863.4" y1="858.3" x2="1882.4" y2="858.3" stroke="#d96027" stroke-width="6.4"/>
<circle cx="1863.4" cy="858.3" r="5.4" fill="#d96027"/>
<circle cx="1882.4" cy="858.3" r="5.4" fill="#d96027"/>
<line x1="1863.4" y1="867.58" x2="1882.4" y2="867.58" stroke="#d96027" stroke-width="6.4"/>
<circle cx="1863.4" cy="867.58" r="5.4" fill="#d96027"/>
<circle cx="1882.4" cy="867.58" r="5.4" fill="#d96027"/>
<line x1="1869" y1="914.01" x2="1882.8" y2="914.01" stroke="#d96027" stroke-width="6.4"/>
<circle cx="1869" cy="914.01" r="5.4" fill="#d96027"/>
<circle cx="1882.8" cy="914.01" r="5.4" fill="#d96027"/>
<line x1="1869" y1="923.29" x2="1883.3" y2="923.29" stroke="#d96027" stroke-width="6.4"/>
<circle cx="1869" cy="923.29" r="5.4" fill="#d96027"/>
<circle cx="1883.3" cy="923.29" r="5.4" fill="#d96027"/>
<line x1="1880.1" y1="1174" x2="1881.1" y2="1174" stroke="#1b9e77" stroke-width="6.4"/>
<circle cx="1880.1" cy="1174" r="5.4" fill="#1b9e77"/>
<circle cx="1881.1" cy="1174" r="5.4" fill="#1b9e77"/>
<line x1="2088.35" y1="524.03" x2="2156.5" y2="524.03" stroke="#d96027" stroke-width="6.4"/>
<circle cx="2088.35" cy="524.03" r="5.4" fill="#d96027"/>
<circle cx="2156.5" cy="524.03" r="5.4" fill="#d96027"/>
<line x1="2098.2" y1="542.6" x2="2156.5" y2="542.6" stroke="#d96027" stroke-width="6.4"/>
<circle cx="2098.2" cy="542.6" r="5.4" fill="#d96027"/>
<circle cx="2156.5" cy="542.6" r="5.4" fill="#d96027"/>
<line x1="2100.2" y1="561.17" x2="2157.5" y2="561.17" stroke="#d96027" stroke-width="6.4"/>
<circle cx="2100.2" cy="561.17" r="5.4" fill="#d96027"/>
<circle cx="2157.5" cy="561.17" r="5.4" fill="#d96027"/>
<line x1="2107.8" y1="598.31" x2="2157" y2="598.31" stroke="#d96027" stroke-width="6.4"/>
<circle cx="2107.8" cy="598.31" r="5.4" fill="#d96027"/>
<circle cx="2157" cy="598.31" r="5.4" fill="#d96027"/>
<line x1="2111.6" y1="644.74" x2="2156.2" y2="644.74" stroke="#d96027" stroke-width="6.4"/>
<circle cx="2111.6" cy="644.74" r="5.4" fill="#d96027"/>
<circle cx="2156.2" cy="644.74" r="5.4" fill="#d96027"/>
<line x1="2124.9" y1="774.73" x2="2160.25" y2="774.73" stroke="#7570b3" stroke-width="6.4"/>
<circle cx="2124.9" cy="774.73" r="5.4" fill="#7570b3"/>
<circle cx="2160.25" cy="774.73" r="5.4" fill="#7570b3"/>
<line x1="2129.2" y1="811.87" x2="2156.2" y2="811.87" stroke="#d96027" stroke-width="6.4"/>
<circle cx="2129.2" cy="811.87" r="5.4" fill="#d96027"/>
<circle cx="2156.2" cy="811.87" r="5.4" fill="#d96027"/>
<line x1="2144.4" y1="932.58" x2="2161.3" y2="932.58" stroke="#7570b3" stroke-width="6.4"/>
<circle cx="2144.4" cy="932.58" r="5.4" fill="#7570b3"/>
<circle cx="2161.3" cy="932.58" r="5.4" fill="#7570b3"/>
</g>
<g id="leaders" stroke="#000" stroke-width="1.5" stroke-linecap="butt">
<line x1="118.6" y1="709.7" x2="196.3" y2="709.7"/>
<line x1="110.5" y1="830.3" x2="209.4" y2="830.3"/>
<line x1="120.6" y1="895.4" x2="219.5" y2="895.4"/>
<line x1="131.9" y1="932.2" x2="225.3" y2="949.9"/>
<line x1="114" y1="955.7" x2="225.3" y2="960.7"/>
<line x1="144.6" y1="979.7" x2="228.3" y2="978.4"/>
<line x1="117.8" y1="1003.1" x2="228.3" y2="988.5"/>
<line x1="138.7" y1="1026.1" x2="230.8" y2="1006.9"/>
<line x1="133.2" y1="1053.2" x2="232.1" y2="1053.2"/>
<line x1="134.2" y1="1127.8" x2="233.4" y2="1146"/>
<line x1="134.2" y1="1152.3" x2="233.4" y2="1155.1"/>
<line x1="134.2" y1="1176.3" x2="233.4" y2="1164.4"/>
<line x1="386" y1="747.1" x2="473.5" y2="747.1"/>
<line x1="403.1" y1="1018.1" x2="507.1" y2="1025.4"/>
<line x1="412" y1="1041.8" x2="507.1" y2="1034.5"/>
<line x1="405.4" y1="1077.1" x2="507.1" y2="1081.2"/>
<line x1="457.9" y1="1100.6" x2="507.1" y2="1090.5"/>
<line x1="371.6" y1="1103.6" x2="507.1" y2="1108.9"/>
<line x1="403.6" y1="1126.5" x2="507.1" y2="1118.2"/>
<line x1="486.1" y1="1126.6" x2="507.1" y2="1127.3"/>
<line x1="406.7" y1="1150.3" x2="507.1" y2="1136.7"/>
<line x1="654.6" y1="672.9" x2="740.9" y2="672.9"/>
<line x1="656.6" y1="802.6" x2="755" y2="802.6"/>
<line x1="667.2" y1="885.8" x2="766.1" y2="885.8"/>
<line x1="936.4" y1="839.9" x2="1035" y2="839.9"/>
<line x1="945.5" y1="905" x2="1043.9" y2="905"/>
<line x1="1198.9" y1="506.7" x2="1244.4" y2="486.7"/>
<line x1="1202.7" y1="534.5" x2="1248.2" y2="495.9"/>
<line x1="1208.2" y1="559.1" x2="1254.5" y2="505.4"/>
<line x1="1269" y1="567.3" x2="1276.6" y2="551.9"/>
<line x1="1163.6" y1="587.3" x2="1277.2" y2="570.5"/>
<line x1="1224.8" y1="592.6" x2="1286.1" y2="607.7"/>
<line x1="1205.9" y1="615.8" x2="1287" y2="625.5"/>
<line x1="1274.1" y1="649.3" x2="1288.6" y2="635.7"/>
<line x1="1186.9" y1="639.4" x2="1288.6" y2="654"/>
<line x1="1208.4" y1="662.9" x2="1289.9" y2="663.4"/>
<line x1="1193.3" y1="687.1" x2="1293.7" y2="691.2"/>
<line x1="1279.1" y1="709.2" x2="1294.9" y2="700.4"/>
<line x1="1181.9" y1="712.4" x2="1296.2" y2="719"/>
<line x1="1198.9" y1="733.9" x2="1297.4" y2="728.4"/>
<line x1="1271.6" y1="732.4" x2="1297.4" y2="737.7"/>
<line x1="1166.1" y1="757.1" x2="1297.8" y2="756.2"/>
<line x1="1280.4" y1="757.5" x2="1300.6" y2="765.7"/>
<line x1="1217.2" y1="780.2" x2="1303.8" y2="784"/>
<line x1="1202.7" y1="804.1" x2="1304.4" y2="793.1"/>
<line x1="1216.6" y1="876.5" x2="1315.1" y2="876.7"/>
<line x1="1224.6" y1="941.8" x2="1323.3" y2="941.8"/>
<line x1="1227.4" y1="969.6" x2="1325.9" y2="969.6"/>
<line x1="1230.5" y1="997.4" x2="1330.3" y2="997.4"/>
<line x1="1232.1" y1="1043.95" x2="1330.9" y2="1043.95"/>
<line x1="1232.1" y1="1072" x2="1330.9" y2="1072"/>
<line x1="1483.3" y1="821.3" x2="1579.9" y2="821.3"/>
<line x1="1489.6" y1="849.05" x2="1588" y2="849.05"/>
<line x1="1506" y1="1016.05" x2="1605.6" y2="1016.05"/>
<line x1="1506.8" y1="1062.5" x2="1605.6" y2="1062.5"/>
<line x1="1507.3" y1="1099.6" x2="1605.6" y2="1099.6"/>
<line x1="1507.8" y1="1176.8" x2="1605.6" y2="1182.6"/>
<line x1="1730.1" y1="580" x2="1828.5" y2="580"/>
<line x1="1784.9" y1="852.1" x2="1863.1" y2="858.4"/>
<line x1="1772.3" y1="875.8" x2="1863.1" y2="867.7"/>
<line x1="1769.7" y1="906.8" x2="1868.9" y2="913.9"/>
<line x1="1771" y1="930.3" x2="1868.9" y2="923.5"/>
<line x1="1782.7" y1="1173.75" x2="1880.6" y2="1173.75"/>
<line x1="2026.3" y1="520.5" x2="2088.35" y2="523.8"/>
<line x1="2001.3" y1="544" x2="2098.2" y2="542.4"/>
<line x1="2001.8" y1="567.9" x2="2100.2" y2="561.1"/>
<line x1="2069.2" y1="598.45" x2="2107.8" y2="598.45"/>
<line x1="2042.2" y1="645.1" x2="2111.6" y2="645.1"/>
<line x1="2032.1" y1="774.6" x2="2124.9" y2="774.6"/>
<line x1="2030.8" y1="812.2" x2="2129.2" y2="812.2"/>
<line x1="2046" y1="932.8" x2="2144.4" y2="932.8"/>
</g>
<g id="labels" font-size="18.3" text-anchor="end" fill="#000">
<text x="116.3" y="716.4">Galveston</text>
<text x="108.8" y="837.2">Nueces</text>
<text x="118.6" y="902.3">Cameron</text>
<text x="130.2" y="939.7">Kleberg</text>
<text x="112.1" y="963.3">Brazoria</text>
<text x="142.8" y="986.5">Matagorda</text>
<text x="116.1" y="1009.7">Calhoun</text>
<text x="137" y="1033.1">Chambers</text>
<text x="131.5" y="1060.2">Jefferson</text>
<text x="132.5" y="1135.1">Willacy</text>
<text x="132.5" y="1159.5">Kenedy</text>
<text x="132.5" y="1183">Aransas</text>
<text x="383.8" y="754">Jefferson</text>
<text x="401.4" y="1025.5">Lafourche</text>
<text x="410.2" y="1048.9">Cameron</text>
<text x="403.7" y="1084.3">St. Mary</text>
<text x="456.1" y="1107.7">Vermilion</text>
<text x="369.6" y="1111">Iberia</text>
<text x="401.9" y="1134">St. Bernard</text>
<text x="484.4" y="1134.2">Plaquemines</text>
<text x="404.9" y="1157.4">Terrebonne</text>
<text x="652.4" y="679.8">Harrison</text>
<text x="654.6" y="809.5">Jackson</text>
<text x="665.2" y="892.7">Hancock</text>
<text x="934.2" y="846.8">Baldwin</text>
<text x="943.5" y="911.9">Mobile</text>
<text x="1133.2" y="490.5" text-anchor="start">Palm Beach</text>
<text x="1133.2" y="513.6" text-anchor="start">Pinellas</text>
<text x="1133.2" y="541.4" text-anchor="start">Broward</text>
<text x="1133.2" y="566" text-anchor="start">Sarasota</text>
<text x="1257.1" y="523.3">Duval</text>
<text x="1313.3" y="547.7">Volusia</text>
<text x="1266.6" y="577.1">Pasco</text>
<text x="1133.2" y="593.6" text-anchor="start">Lee</text>
<text x="1322.4" y="602.6">Hillsborough</text>
<text x="1223" y="600.1">Charlotte</text>
<text x="1298.1" y="631.6">Okaloosa</text>
<text x="1133.2" y="623.3" text-anchor="start">Manatee</text>
<text x="1271.6" y="656.8">St. Johns</text>
<text x="1133.2" y="646.5" text-anchor="start">Collier</text>
<text x="1206.6" y="669.4">St. Lucie</text>
<text x="1286.1" y="692.8">Indian River</text>
<text x="1133.2" y="693.4" text-anchor="start">Nassau</text>
<text x="1276.7" y="716.8">Miami-Dade</text>
<text x="1133.2" y="717.4" text-anchor="start">Martin</text>
<text x="1200.9" y="740.8">Brevard</text>
<text x="1270" y="740.2">Escambia</text>
<text x="1133.2" y="764.7" text-anchor="start">Bay</text>
<text x="1278.6" y="763.8">Santa Rosa</text>
<text x="1215.2" y="787.4">Walton</text>
<text x="1201.2" y="810.8">Flagler</text>
<text x="1214.8" y="883.4">Monroe</text>
<text x="1222.7" y="948.4">Gulf</text>
<text x="1225.3" y="976.2">Franklin</text>
<text x="1228.3" y="1004">Wakulla</text>
<text x="1229.6" y="1050.5">Levy</text>
<text x="1230.3" y="1078.5">Dixie</text>
<text x="1481.6" y="828.2">Chatham</text>
<text x="1487.4" y="856">Glynn</text>
<text x="1503.8" y="1023">Bryan</text>
<text x="1504.8" y="1069.4">McIntosh</text>
<text x="1505.5" y="1106.5">Camden</text>
<text x="1506" y="1183.9">Liberty</text>
<text x="1727.9" y="586.9">Horry</text>
<text x="1782.9" y="859.3">Georgetown</text>
<text x="1770.5" y="882.7">Charleston</text>
<text x="1768" y="914">Beaufort</text>
<text x="1768.8" y="937.4">Colleton</text>
<text x="1781" y="1180.9">Jasper</text>
<text x="2024.6" y="527.5">Carteret</text>
<text x="1999.6" y="551">Hyde</text>
<text x="2000.1" y="574.9">Dare</text>
<text x="2067.5" y="605.4">New Hanover</text>
<text x="2040" y="652.1">Brunswick</text>
<text x="2029.9" y="781.6">Currituck</text>
<text x="2028.6" y="819.1">Pender</text>
<text x="2043.8" y="939.7">Onslow</text>
</g>
<text x="1124.2" y="1234.0" font-size="22.70" text-anchor="middle" fill="#000">In Non-CoBRA Areas&lt;---------Structures/Hectare---------&gt;In CoBRA Areas</text>
<text transform="translate(16.7,830.6) rotate(-90)" font-size="22.75" text-anchor="middle" fill="#000">Counties (ordered by Density in Non-CoBRA area)</text>
</svg></body></html>
